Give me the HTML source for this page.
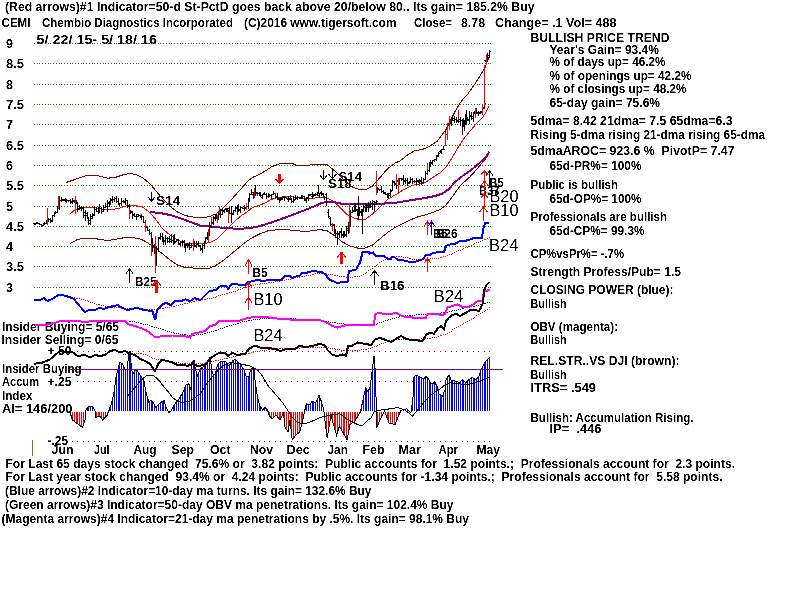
<!DOCTYPE html>
<html><head><meta charset="utf-8"><title>CEMI Chembio Diagnostics - TigerSoft chart</title>
<style>
html,body{margin:0;padding:0;background:#fff;}
body{width:800px;height:600px;overflow:hidden;font-family:"Liberation Sans",sans-serif;}
svg{display:block;}
text{font-family:"Liberation Sans",sans-serif;fill:#000;white-space:pre;}
text.b{font-size:13px;font-weight:bold;}
text.s{font-size:11px;font-weight:bold;}
text.m{font-size:12.5px;font-weight:bold;}
text.L{font-size:16px;font-weight:normal;}
</style></head>
<body>
<svg width="800" height="600" viewBox="0 0 800 600">
<rect width="800" height="600" fill="#fff"/>
<defs><filter id="bin" filterUnits="userSpaceOnUse" x="0" y="0" width="800" height="600" color-interpolation-filters="sRGB"><feComponentTransfer><feFuncA type="linear" slope="2.2" intercept="-0.6"/></feComponentTransfer></filter></defs>
<g xml:space="preserve" filter="url(#bin)">
<text class="b" x="5" y="11" textLength="529.5" lengthAdjust="spacingAndGlyphs">(Red arrows)#1 Indicator=50-d St-PctD goes back above 20/below 80.. Its gain= 185.2% Buy</text>
<text class="b" x="1.5" y="27" textLength="29.0" lengthAdjust="spacingAndGlyphs">CEMI</text>
<text class="b" x="42" y="27" textLength="191" lengthAdjust="spacingAndGlyphs">Chembio Diagnostics Incorporated</text>
<text class="b" x="244" y="27" textLength="152.5" lengthAdjust="spacingAndGlyphs">(C)2016 www.tigersoft.com</text>
<text class="b" x="414" y="27" textLength="38" lengthAdjust="spacingAndGlyphs">Close=</text>
<text class="b" x="461" y="27" textLength="24" lengthAdjust="spacingAndGlyphs">8.78</text>
<text class="b" x="495" y="27" textLength="121.5" lengthAdjust="spacingAndGlyphs">Change= .1 Vol= 488</text>
<text class="b" x="36.5" y="43.5" textLength="120.5" lengthAdjust="spacingAndGlyphs">5/ 22/ 15- 5/ 18/ 16</text>
<text class="b" x="6" y="48" textLength="7" lengthAdjust="spacingAndGlyphs">9</text>
<text class="b" x="6" y="68" textLength="18" lengthAdjust="spacingAndGlyphs">8.5</text>
<text class="b" x="6" y="89" textLength="7" lengthAdjust="spacingAndGlyphs">8</text>
<text class="b" x="6" y="109" textLength="18" lengthAdjust="spacingAndGlyphs">7.5</text>
<text class="b" x="6" y="129" textLength="7" lengthAdjust="spacingAndGlyphs">7</text>
<text class="b" x="6" y="150" textLength="18" lengthAdjust="spacingAndGlyphs">6.5</text>
<text class="b" x="6" y="170" textLength="7" lengthAdjust="spacingAndGlyphs">6</text>
<text class="b" x="6" y="190" textLength="18" lengthAdjust="spacingAndGlyphs">5.5</text>
<text class="b" x="6" y="211" textLength="7" lengthAdjust="spacingAndGlyphs">5</text>
<text class="b" x="6" y="231" textLength="18" lengthAdjust="spacingAndGlyphs">4.5</text>
<text class="b" x="6" y="251" textLength="7" lengthAdjust="spacingAndGlyphs">4</text>
<text class="b" x="6" y="271" textLength="18" lengthAdjust="spacingAndGlyphs">3.5</text>
<text class="b" x="6" y="292" textLength="7" lengthAdjust="spacingAndGlyphs">3</text>
<text class="b" x="530.5" y="42" textLength="139.0" lengthAdjust="spacingAndGlyphs">BULLISH PRICE TREND</text>
<text class="b" x="549.5" y="54" textLength="109.5" lengthAdjust="spacingAndGlyphs">Year's Gain= 93.4%</text>
<text class="b" x="549.5" y="66" textLength="116.0" lengthAdjust="spacingAndGlyphs">% of days up= 46.2%</text>
<text class="b" x="549.5" y="80" textLength="142.0" lengthAdjust="spacingAndGlyphs">% of openings up= 42.2%</text>
<text class="b" x="549.5" y="93" textLength="137.0" lengthAdjust="spacingAndGlyphs">% of closings up= 48.2%</text>
<text class="b" x="549.5" y="107" textLength="110.5" lengthAdjust="spacingAndGlyphs">65-day gain= 75.6%</text>
<text class="b" x="530.5" y="125" textLength="202.0" lengthAdjust="spacingAndGlyphs">5dma= 8.42 21dma= 7.5 65dma=6.3</text>
<text class="b" x="530.5" y="138.5" textLength="234.5" lengthAdjust="spacingAndGlyphs">Rising 5-dma rising 21-dma rising 65-dma</text>
<text class="b" x="530.5" y="155" textLength="204.0" lengthAdjust="spacingAndGlyphs">5dmaAROC= 923.6 %  PivotP= 7.47</text>
<text class="b" x="549.5" y="170" textLength="92.0" lengthAdjust="spacingAndGlyphs">65d-PR%= 100%</text>
<text class="b" x="530.5" y="188.5" textLength="87.5" lengthAdjust="spacingAndGlyphs">Public is bullish</text>
<text class="b" x="549.5" y="202.5" textLength="92.0" lengthAdjust="spacingAndGlyphs">65d-OP%= 100%</text>
<text class="b" x="530.5" y="221" textLength="136.5" lengthAdjust="spacingAndGlyphs">Professionals are bullish</text>
<text class="b" x="549.5" y="235" textLength="95.0" lengthAdjust="spacingAndGlyphs">65d-CP%= 99.3%</text>
<text class="b" x="530.5" y="257.5" textLength="93.5" lengthAdjust="spacingAndGlyphs">CP%vsPr%= -.7%</text>
<text class="b" x="530.5" y="276" textLength="150.5" lengthAdjust="spacingAndGlyphs">Strength Profess/Pub= 1.5</text>
<text class="b" x="530.5" y="293.5" textLength="143.0" lengthAdjust="spacingAndGlyphs">CLOSING POWER (blue):</text>
<text class="b" x="530.5" y="307.5" textLength="36.0" lengthAdjust="spacingAndGlyphs">Bullish</text>
<text class="b" x="530.5" y="330.5" textLength="87.5" lengthAdjust="spacingAndGlyphs">OBV (magenta):</text>
<text class="b" x="530.5" y="343.5" textLength="36.0" lengthAdjust="spacingAndGlyphs">Bullish</text>
<text class="b" x="530.5" y="365" textLength="149.0" lengthAdjust="spacingAndGlyphs">REL.STR..VS DJI (brown):</text>
<text class="b" x="530.5" y="378.5" textLength="36.0" lengthAdjust="spacingAndGlyphs">Bullish</text>
<text class="b" x="530.5" y="391.5" textLength="65.5" lengthAdjust="spacingAndGlyphs">ITRS= .549</text>
<text class="b" x="530.5" y="422" textLength="163.0" lengthAdjust="spacingAndGlyphs">Bullish: Accumulation Rising.</text>
<text class="b" x="549.5" y="432.5" textLength="52.0" lengthAdjust="spacingAndGlyphs">IP=  .446</text>
<text class="b" x="2" y="330.5" textLength="117" lengthAdjust="spacingAndGlyphs">Insider Buying= 5/65</text>
<text class="b" x="1.5" y="343.5" textLength="117.0" lengthAdjust="spacingAndGlyphs">Insider Selling= 0/65</text>
<text class="b" x="47.5" y="355" textLength="24.0" lengthAdjust="spacingAndGlyphs">+.50</text>
<text class="b" x="2" y="372.5" textLength="79.5" lengthAdjust="spacingAndGlyphs">Insider Buying</text>
<text class="b" x="2" y="385.5" textLength="37" lengthAdjust="spacingAndGlyphs">Accum</text>
<text class="b" x="47.5" y="385.5" textLength="24.0" lengthAdjust="spacingAndGlyphs">+.25</text>
<text class="b" x="2" y="400" textLength="30.5" lengthAdjust="spacingAndGlyphs">Index</text>
<text class="b" x="2" y="412.5" textLength="70.5" lengthAdjust="spacingAndGlyphs">AI= 146/200</text>
<text class="b" x="47.5" y="444.5" textLength="20.5" lengthAdjust="spacingAndGlyphs">-.25</text>
<text class="b" x="51.5" y="453.5" textLength="22.0" lengthAdjust="spacingAndGlyphs">Jun</text>
<text class="b" x="94" y="453.5" textLength="15.5" lengthAdjust="spacingAndGlyphs">Jul</text>
<text class="b" x="133.5" y="453.5" textLength="23.0" lengthAdjust="spacingAndGlyphs">Aug</text>
<text class="b" x="171.5" y="453.5" textLength="22.5" lengthAdjust="spacingAndGlyphs">Sep</text>
<text class="b" x="210" y="453.5" textLength="20.5" lengthAdjust="spacingAndGlyphs">Oct</text>
<text class="b" x="250" y="453.5" textLength="23" lengthAdjust="spacingAndGlyphs">Nov</text>
<text class="b" x="286.5" y="453.5" textLength="23.5" lengthAdjust="spacingAndGlyphs">Dec</text>
<text class="b" x="327.5" y="453.5" textLength="20.5" lengthAdjust="spacingAndGlyphs">Jan</text>
<text class="b" x="362.5" y="453.5" textLength="22.0" lengthAdjust="spacingAndGlyphs">Feb</text>
<text class="b" x="398.5" y="453.5" textLength="22.5" lengthAdjust="spacingAndGlyphs">Mar</text>
<text class="b" x="438.5" y="453.5" textLength="19.5" lengthAdjust="spacingAndGlyphs">Apr</text>
<text class="b" x="476.5" y="453.5" textLength="23.5" lengthAdjust="spacingAndGlyphs">May</text>
<text class="b" x="5.5" y="467.5" textLength="729.5" lengthAdjust="spacingAndGlyphs">For Last 65 days stock changed  75.6% or  3.82 points:  Public accounts for  1.52 points.;  Professionals account for  2.3 points.</text>
<text class="b" x="5.5" y="480.5" textLength="717.0" lengthAdjust="spacingAndGlyphs">For Last year stock changed  93.4% or  4.24 points:  Public accounts for -1.34 points.;  Professionals account for  5.58 points.</text>
<text class="b" x="5" y="495" textLength="366.5" lengthAdjust="spacingAndGlyphs">(Blue arrows)#2 Indicator=10-day ma turns. Its gain= 132.6% Buy</text>
<text class="b" x="5" y="509" textLength="448.5" lengthAdjust="spacingAndGlyphs">(Green arrows)#3 Indicator=50-day OBV ma penetrations. Its gain= 102.4% Buy</text>
<text class="b" x="1.5" y="522.5" textLength="467.5" lengthAdjust="spacingAndGlyphs">(Magenta arrows)#4 Indicator=21-day ma penetrations by .5%. Its gain= 98.1% Buy</text>
<text class="m" x="156" y="204.5" textLength="24.5" lengthAdjust="spacingAndGlyphs">S14</text>
<text class="m" x="135" y="285.5" textLength="21.5" lengthAdjust="spacingAndGlyphs">B25</text>
<text class="m" x="252.5" y="276.5" textLength="15.0" lengthAdjust="spacingAndGlyphs">B5</text>
<text class="L" x="253.5" y="304.5" textLength="29.0" lengthAdjust="spacingAndGlyphs">B10</text>
<text class="L" x="253.5" y="340.5" textLength="29.0" lengthAdjust="spacingAndGlyphs">B24</text>
<text class="m" x="338.5" y="180.5" textLength="23.5" lengthAdjust="spacingAndGlyphs">S14</text>
<text class="m" x="328" y="188" textLength="23.5" lengthAdjust="spacingAndGlyphs">S18</text>
<text class="m" x="380" y="289.5" textLength="24.5" lengthAdjust="spacingAndGlyphs">B16</text>
<text class="m" x="433" y="238" textLength="14.5" lengthAdjust="spacingAndGlyphs">B5</text>
<text class="m" x="436" y="238" textLength="21.5" lengthAdjust="spacingAndGlyphs">B26</text>
<text class="m" x="489.5" y="187" textLength="14.0" lengthAdjust="spacingAndGlyphs">B5</text>
<text class="m" x="479" y="195" textLength="20.5" lengthAdjust="spacingAndGlyphs">B37</text>
<text class="L" x="489.5" y="201.5" textLength="29.0" lengthAdjust="spacingAndGlyphs">B20</text>
<text class="L" x="489.5" y="215.5" textLength="29.0" lengthAdjust="spacingAndGlyphs">B10</text>
<text class="L" x="489" y="250.5" textLength="29.5" lengthAdjust="spacingAndGlyphs">B24</text>
<text class="L" x="433.5" y="302" textLength="30.0" lengthAdjust="spacingAndGlyphs">B24</text>
</g>
<g shape-rendering="crispEdges">
<path d="M34,43.5h1M37,43.5h1M39,43.5h1M42,43.5h1M45,43.5h1M48,43.5h1M50,43.5h1M53,43.5h1M56,43.5h1M59,43.5h1M61,43.5h1M64,43.5h1M67,43.5h1M70,43.5h1M72,43.5h1M75,43.5h1M78,43.5h1M81,43.5h1M83,43.5h1M86,43.5h1M89,43.5h1M92,43.5h1M94,43.5h1M97,43.5h1M100,43.5h1M103,43.5h1M105,43.5h1M108,43.5h1M111,43.5h1M114,43.5h1M116,43.5h1M119,43.5h1M122,43.5h1M125,43.5h1M127,43.5h1M130,43.5h1M133,43.5h1M136,43.5h1M138,43.5h1M141,43.5h1M144,43.5h1M147,43.5h1M149,43.5h1M152,43.5h1M155,43.5h1M158,43.5h1M160,43.5h1M163,43.5h1M166,43.5h1M169,43.5h1M171,43.5h1M174,43.5h1M177,43.5h1M180,43.5h1M182,43.5h1M185,43.5h1M188,43.5h1M191,43.5h1M193,43.5h1M196,43.5h1M199,43.5h1M202,43.5h1M204,43.5h1M207,43.5h1M210,43.5h1M213,43.5h1M215,43.5h1M218,43.5h1M221,43.5h1M224,43.5h1M226,43.5h1M229,43.5h1M232,43.5h1M235,43.5h1M237,43.5h1M240,43.5h1M243,43.5h1M246,43.5h1M248,43.5h1M251,43.5h1M254,43.5h1M257,43.5h1M259,43.5h1M262,43.5h1M265,43.5h1M268,43.5h1M270,43.5h1M273,43.5h1M276,43.5h1M279,43.5h1M281,43.5h1M284,43.5h1M287,43.5h1M290,43.5h1M292,43.5h1M295,43.5h1M298,43.5h1M301,43.5h1M303,43.5h1M306,43.5h1M309,43.5h1M312,43.5h1M314,43.5h1M317,43.5h1M320,43.5h1M323,43.5h1M325,43.5h1M328,43.5h1M331,43.5h1M334,43.5h1M336,43.5h1M339,43.5h1M342,43.5h1M345,43.5h1M347,43.5h1M350,43.5h1M353,43.5h1M356,43.5h1M358,43.5h1M361,43.5h1M364,43.5h1M367,43.5h1M369,43.5h1M372,43.5h1M375,43.5h1M378,43.5h1M380,43.5h1M383,43.5h1M386,43.5h1M389,43.5h1M391,43.5h1M394,43.5h1M397,43.5h1M400,43.5h1M402,43.5h1M405,43.5h1M408,43.5h1M411,43.5h1M413,43.5h1M416,43.5h1M419,43.5h1M422,43.5h1M424,43.5h1M427,43.5h1M430,43.5h1M433,43.5h1M435,43.5h1M438,43.5h1M441,43.5h1M444,43.5h1M446,43.5h1M449,43.5h1M452,43.5h1M455,43.5h1M457,43.5h1M460,43.5h1M463,43.5h1M466,43.5h1M468,43.5h1M471,43.5h1M474,43.5h1M477,43.5h1M479,43.5h1M482,43.5h1M485,43.5h1M488,43.5h1M490,43.5h1M34,63.5h1M37,63.5h1M39,63.5h1M42,63.5h1M45,63.5h1M48,63.5h1M50,63.5h1M53,63.5h1M56,63.5h1M59,63.5h1M61,63.5h1M64,63.5h1M67,63.5h1M70,63.5h1M72,63.5h1M75,63.5h1M78,63.5h1M81,63.5h1M83,63.5h1M86,63.5h1M89,63.5h1M92,63.5h1M94,63.5h1M97,63.5h1M100,63.5h1M103,63.5h1M105,63.5h1M108,63.5h1M111,63.5h1M114,63.5h1M116,63.5h1M119,63.5h1M122,63.5h1M125,63.5h1M127,63.5h1M130,63.5h1M133,63.5h1M136,63.5h1M138,63.5h1M141,63.5h1M144,63.5h1M147,63.5h1M149,63.5h1M152,63.5h1M155,63.5h1M158,63.5h1M160,63.5h1M163,63.5h1M166,63.5h1M169,63.5h1M171,63.5h1M174,63.5h1M177,63.5h1M180,63.5h1M182,63.5h1M185,63.5h1M188,63.5h1M191,63.5h1M193,63.5h1M196,63.5h1M199,63.5h1M202,63.5h1M204,63.5h1M207,63.5h1M210,63.5h1M213,63.5h1M215,63.5h1M218,63.5h1M221,63.5h1M224,63.5h1M226,63.5h1M229,63.5h1M232,63.5h1M235,63.5h1M237,63.5h1M240,63.5h1M243,63.5h1M246,63.5h1M248,63.5h1M251,63.5h1M254,63.5h1M257,63.5h1M259,63.5h1M262,63.5h1M265,63.5h1M268,63.5h1M270,63.5h1M273,63.5h1M276,63.5h1M279,63.5h1M281,63.5h1M284,63.5h1M287,63.5h1M290,63.5h1M292,63.5h1M295,63.5h1M298,63.5h1M301,63.5h1M303,63.5h1M306,63.5h1M309,63.5h1M312,63.5h1M314,63.5h1M317,63.5h1M320,63.5h1M323,63.5h1M325,63.5h1M328,63.5h1M331,63.5h1M334,63.5h1M336,63.5h1M339,63.5h1M342,63.5h1M345,63.5h1M347,63.5h1M350,63.5h1M353,63.5h1M356,63.5h1M358,63.5h1M361,63.5h1M364,63.5h1M367,63.5h1M369,63.5h1M372,63.5h1M375,63.5h1M378,63.5h1M380,63.5h1M383,63.5h1M386,63.5h1M389,63.5h1M391,63.5h1M394,63.5h1M397,63.5h1M400,63.5h1M402,63.5h1M405,63.5h1M408,63.5h1M411,63.5h1M413,63.5h1M416,63.5h1M419,63.5h1M422,63.5h1M424,63.5h1M427,63.5h1M430,63.5h1M433,63.5h1M435,63.5h1M438,63.5h1M441,63.5h1M444,63.5h1M446,63.5h1M449,63.5h1M452,63.5h1M455,63.5h1M457,63.5h1M460,63.5h1M463,63.5h1M466,63.5h1M468,63.5h1M471,63.5h1M474,63.5h1M477,63.5h1M479,63.5h1M482,63.5h1M485,63.5h1M488,63.5h1M490,63.5h1M34,84.5h1M37,84.5h1M39,84.5h1M42,84.5h1M45,84.5h1M48,84.5h1M50,84.5h1M53,84.5h1M56,84.5h1M59,84.5h1M61,84.5h1M64,84.5h1M67,84.5h1M70,84.5h1M72,84.5h1M75,84.5h1M78,84.5h1M81,84.5h1M83,84.5h1M86,84.5h1M89,84.5h1M92,84.5h1M94,84.5h1M97,84.5h1M100,84.5h1M103,84.5h1M105,84.5h1M108,84.5h1M111,84.5h1M114,84.5h1M116,84.5h1M119,84.5h1M122,84.5h1M125,84.5h1M127,84.5h1M130,84.5h1M133,84.5h1M136,84.5h1M138,84.5h1M141,84.5h1M144,84.5h1M147,84.5h1M149,84.5h1M152,84.5h1M155,84.5h1M158,84.5h1M160,84.5h1M163,84.5h1M166,84.5h1M169,84.5h1M171,84.5h1M174,84.5h1M177,84.5h1M180,84.5h1M182,84.5h1M185,84.5h1M188,84.5h1M191,84.5h1M193,84.5h1M196,84.5h1M199,84.5h1M202,84.5h1M204,84.5h1M207,84.5h1M210,84.5h1M213,84.5h1M215,84.5h1M218,84.5h1M221,84.5h1M224,84.5h1M226,84.5h1M229,84.5h1M232,84.5h1M235,84.5h1M237,84.5h1M240,84.5h1M243,84.5h1M246,84.5h1M248,84.5h1M251,84.5h1M254,84.5h1M257,84.5h1M259,84.5h1M262,84.5h1M265,84.5h1M268,84.5h1M270,84.5h1M273,84.5h1M276,84.5h1M279,84.5h1M281,84.5h1M284,84.5h1M287,84.5h1M290,84.5h1M292,84.5h1M295,84.5h1M298,84.5h1M301,84.5h1M303,84.5h1M306,84.5h1M309,84.5h1M312,84.5h1M314,84.5h1M317,84.5h1M320,84.5h1M323,84.5h1M325,84.5h1M328,84.5h1M331,84.5h1M334,84.5h1M336,84.5h1M339,84.5h1M342,84.5h1M345,84.5h1M347,84.5h1M350,84.5h1M353,84.5h1M356,84.5h1M358,84.5h1M361,84.5h1M364,84.5h1M367,84.5h1M369,84.5h1M372,84.5h1M375,84.5h1M378,84.5h1M380,84.5h1M383,84.5h1M386,84.5h1M389,84.5h1M391,84.5h1M394,84.5h1M397,84.5h1M400,84.5h1M402,84.5h1M405,84.5h1M408,84.5h1M411,84.5h1M413,84.5h1M416,84.5h1M419,84.5h1M422,84.5h1M424,84.5h1M427,84.5h1M430,84.5h1M433,84.5h1M435,84.5h1M438,84.5h1M441,84.5h1M444,84.5h1M446,84.5h1M449,84.5h1M452,84.5h1M455,84.5h1M457,84.5h1M460,84.5h1M463,84.5h1M466,84.5h1M468,84.5h1M471,84.5h1M474,84.5h1M477,84.5h1M479,84.5h1M482,84.5h1M485,84.5h1M488,84.5h1M490,84.5h1M34,104.5h1M37,104.5h1M39,104.5h1M42,104.5h1M45,104.5h1M48,104.5h1M50,104.5h1M53,104.5h1M56,104.5h1M59,104.5h1M61,104.5h1M64,104.5h1M67,104.5h1M70,104.5h1M72,104.5h1M75,104.5h1M78,104.5h1M81,104.5h1M83,104.5h1M86,104.5h1M89,104.5h1M92,104.5h1M94,104.5h1M97,104.5h1M100,104.5h1M103,104.5h1M105,104.5h1M108,104.5h1M111,104.5h1M114,104.5h1M116,104.5h1M119,104.5h1M122,104.5h1M125,104.5h1M127,104.5h1M130,104.5h1M133,104.5h1M136,104.5h1M138,104.5h1M141,104.5h1M144,104.5h1M147,104.5h1M149,104.5h1M152,104.5h1M155,104.5h1M158,104.5h1M160,104.5h1M163,104.5h1M166,104.5h1M169,104.5h1M171,104.5h1M174,104.5h1M177,104.5h1M180,104.5h1M182,104.5h1M185,104.5h1M188,104.5h1M191,104.5h1M193,104.5h1M196,104.5h1M199,104.5h1M202,104.5h1M204,104.5h1M207,104.5h1M210,104.5h1M213,104.5h1M215,104.5h1M218,104.5h1M221,104.5h1M224,104.5h1M226,104.5h1M229,104.5h1M232,104.5h1M235,104.5h1M237,104.5h1M240,104.5h1M243,104.5h1M246,104.5h1M248,104.5h1M251,104.5h1M254,104.5h1M257,104.5h1M259,104.5h1M262,104.5h1M265,104.5h1M268,104.5h1M270,104.5h1M273,104.5h1M276,104.5h1M279,104.5h1M281,104.5h1M284,104.5h1M287,104.5h1M290,104.5h1M292,104.5h1M295,104.5h1M298,104.5h1M301,104.5h1M303,104.5h1M306,104.5h1M309,104.5h1M312,104.5h1M314,104.5h1M317,104.5h1M320,104.5h1M323,104.5h1M325,104.5h1M328,104.5h1M331,104.5h1M334,104.5h1M336,104.5h1M339,104.5h1M342,104.5h1M345,104.5h1M347,104.5h1M350,104.5h1M353,104.5h1M356,104.5h1M358,104.5h1M361,104.5h1M364,104.5h1M367,104.5h1M369,104.5h1M372,104.5h1M375,104.5h1M378,104.5h1M380,104.5h1M383,104.5h1M386,104.5h1M389,104.5h1M391,104.5h1M394,104.5h1M397,104.5h1M400,104.5h1M402,104.5h1M405,104.5h1M408,104.5h1M411,104.5h1M413,104.5h1M416,104.5h1M419,104.5h1M422,104.5h1M424,104.5h1M427,104.5h1M430,104.5h1M433,104.5h1M435,104.5h1M438,104.5h1M441,104.5h1M444,104.5h1M446,104.5h1M449,104.5h1M452,104.5h1M455,104.5h1M457,104.5h1M460,104.5h1M463,104.5h1M466,104.5h1M468,104.5h1M471,104.5h1M474,104.5h1M477,104.5h1M479,104.5h1M482,104.5h1M485,104.5h1M488,104.5h1M490,104.5h1M34,124.5h1M37,124.5h1M39,124.5h1M42,124.5h1M45,124.5h1M48,124.5h1M50,124.5h1M53,124.5h1M56,124.5h1M59,124.5h1M61,124.5h1M64,124.5h1M67,124.5h1M70,124.5h1M72,124.5h1M75,124.5h1M78,124.5h1M81,124.5h1M83,124.5h1M86,124.5h1M89,124.5h1M92,124.5h1M94,124.5h1M97,124.5h1M100,124.5h1M103,124.5h1M105,124.5h1M108,124.5h1M111,124.5h1M114,124.5h1M116,124.5h1M119,124.5h1M122,124.5h1M125,124.5h1M127,124.5h1M130,124.5h1M133,124.5h1M136,124.5h1M138,124.5h1M141,124.5h1M144,124.5h1M147,124.5h1M149,124.5h1M152,124.5h1M155,124.5h1M158,124.5h1M160,124.5h1M163,124.5h1M166,124.5h1M169,124.5h1M171,124.5h1M174,124.5h1M177,124.5h1M180,124.5h1M182,124.5h1M185,124.5h1M188,124.5h1M191,124.5h1M193,124.5h1M196,124.5h1M199,124.5h1M202,124.5h1M204,124.5h1M207,124.5h1M210,124.5h1M213,124.5h1M215,124.5h1M218,124.5h1M221,124.5h1M224,124.5h1M226,124.5h1M229,124.5h1M232,124.5h1M235,124.5h1M237,124.5h1M240,124.5h1M243,124.5h1M246,124.5h1M248,124.5h1M251,124.5h1M254,124.5h1M257,124.5h1M259,124.5h1M262,124.5h1M265,124.5h1M268,124.5h1M270,124.5h1M273,124.5h1M276,124.5h1M279,124.5h1M281,124.5h1M284,124.5h1M287,124.5h1M290,124.5h1M292,124.5h1M295,124.5h1M298,124.5h1M301,124.5h1M303,124.5h1M306,124.5h1M309,124.5h1M312,124.5h1M314,124.5h1M317,124.5h1M320,124.5h1M323,124.5h1M325,124.5h1M328,124.5h1M331,124.5h1M334,124.5h1M336,124.5h1M339,124.5h1M342,124.5h1M345,124.5h1M347,124.5h1M350,124.5h1M353,124.5h1M356,124.5h1M358,124.5h1M361,124.5h1M364,124.5h1M367,124.5h1M369,124.5h1M372,124.5h1M375,124.5h1M378,124.5h1M380,124.5h1M383,124.5h1M386,124.5h1M389,124.5h1M391,124.5h1M394,124.5h1M397,124.5h1M400,124.5h1M402,124.5h1M405,124.5h1M408,124.5h1M411,124.5h1M413,124.5h1M416,124.5h1M419,124.5h1M422,124.5h1M424,124.5h1M427,124.5h1M430,124.5h1M433,124.5h1M435,124.5h1M438,124.5h1M441,124.5h1M444,124.5h1M446,124.5h1M449,124.5h1M452,124.5h1M455,124.5h1M457,124.5h1M460,124.5h1M463,124.5h1M466,124.5h1M468,124.5h1M471,124.5h1M474,124.5h1M477,124.5h1M479,124.5h1M482,124.5h1M485,124.5h1M488,124.5h1M490,124.5h1M34,145.5h1M37,145.5h1M39,145.5h1M42,145.5h1M45,145.5h1M48,145.5h1M50,145.5h1M53,145.5h1M56,145.5h1M59,145.5h1M61,145.5h1M64,145.5h1M67,145.5h1M70,145.5h1M72,145.5h1M75,145.5h1M78,145.5h1M81,145.5h1M83,145.5h1M86,145.5h1M89,145.5h1M92,145.5h1M94,145.5h1M97,145.5h1M100,145.5h1M103,145.5h1M105,145.5h1M108,145.5h1M111,145.5h1M114,145.5h1M116,145.5h1M119,145.5h1M122,145.5h1M125,145.5h1M127,145.5h1M130,145.5h1M133,145.5h1M136,145.5h1M138,145.5h1M141,145.5h1M144,145.5h1M147,145.5h1M149,145.5h1M152,145.5h1M155,145.5h1M158,145.5h1M160,145.5h1M163,145.5h1M166,145.5h1M169,145.5h1M171,145.5h1M174,145.5h1M177,145.5h1M180,145.5h1M182,145.5h1M185,145.5h1M188,145.5h1M191,145.5h1M193,145.5h1M196,145.5h1M199,145.5h1M202,145.5h1M204,145.5h1M207,145.5h1M210,145.5h1M213,145.5h1M215,145.5h1M218,145.5h1M221,145.5h1M224,145.5h1M226,145.5h1M229,145.5h1M232,145.5h1M235,145.5h1M237,145.5h1M240,145.5h1M243,145.5h1M246,145.5h1M248,145.5h1M251,145.5h1M254,145.5h1M257,145.5h1M259,145.5h1M262,145.5h1M265,145.5h1M268,145.5h1M270,145.5h1M273,145.5h1M276,145.5h1M279,145.5h1M281,145.5h1M284,145.5h1M287,145.5h1M290,145.5h1M292,145.5h1M295,145.5h1M298,145.5h1M301,145.5h1M303,145.5h1M306,145.5h1M309,145.5h1M312,145.5h1M314,145.5h1M317,145.5h1M320,145.5h1M323,145.5h1M325,145.5h1M328,145.5h1M331,145.5h1M334,145.5h1M336,145.5h1M339,145.5h1M342,145.5h1M345,145.5h1M347,145.5h1M350,145.5h1M353,145.5h1M356,145.5h1M358,145.5h1M361,145.5h1M364,145.5h1M367,145.5h1M369,145.5h1M372,145.5h1M375,145.5h1M378,145.5h1M380,145.5h1M383,145.5h1M386,145.5h1M389,145.5h1M391,145.5h1M394,145.5h1M397,145.5h1M400,145.5h1M402,145.5h1M405,145.5h1M408,145.5h1M411,145.5h1M413,145.5h1M416,145.5h1M419,145.5h1M422,145.5h1M424,145.5h1M427,145.5h1M430,145.5h1M433,145.5h1M435,145.5h1M438,145.5h1M441,145.5h1M444,145.5h1M446,145.5h1M449,145.5h1M452,145.5h1M455,145.5h1M457,145.5h1M460,145.5h1M463,145.5h1M466,145.5h1M468,145.5h1M471,145.5h1M474,145.5h1M477,145.5h1M479,145.5h1M482,145.5h1M485,145.5h1M488,145.5h1M490,145.5h1M34,165.5h1M37,165.5h1M39,165.5h1M42,165.5h1M45,165.5h1M48,165.5h1M50,165.5h1M53,165.5h1M56,165.5h1M59,165.5h1M61,165.5h1M64,165.5h1M67,165.5h1M70,165.5h1M72,165.5h1M75,165.5h1M78,165.5h1M81,165.5h1M83,165.5h1M86,165.5h1M89,165.5h1M92,165.5h1M94,165.5h1M97,165.5h1M100,165.5h1M103,165.5h1M105,165.5h1M108,165.5h1M111,165.5h1M114,165.5h1M116,165.5h1M119,165.5h1M122,165.5h1M125,165.5h1M127,165.5h1M130,165.5h1M133,165.5h1M136,165.5h1M138,165.5h1M141,165.5h1M144,165.5h1M147,165.5h1M149,165.5h1M152,165.5h1M155,165.5h1M158,165.5h1M160,165.5h1M163,165.5h1M166,165.5h1M169,165.5h1M171,165.5h1M174,165.5h1M177,165.5h1M180,165.5h1M182,165.5h1M185,165.5h1M188,165.5h1M191,165.5h1M193,165.5h1M196,165.5h1M199,165.5h1M202,165.5h1M204,165.5h1M207,165.5h1M210,165.5h1M213,165.5h1M215,165.5h1M218,165.5h1M221,165.5h1M224,165.5h1M226,165.5h1M229,165.5h1M232,165.5h1M235,165.5h1M237,165.5h1M240,165.5h1M243,165.5h1M246,165.5h1M248,165.5h1M251,165.5h1M254,165.5h1M257,165.5h1M259,165.5h1M262,165.5h1M265,165.5h1M268,165.5h1M270,165.5h1M273,165.5h1M276,165.5h1M279,165.5h1M281,165.5h1M284,165.5h1M287,165.5h1M290,165.5h1M292,165.5h1M295,165.5h1M298,165.5h1M301,165.5h1M303,165.5h1M306,165.5h1M309,165.5h1M312,165.5h1M314,165.5h1M317,165.5h1M320,165.5h1M323,165.5h1M325,165.5h1M328,165.5h1M331,165.5h1M334,165.5h1M336,165.5h1M339,165.5h1M342,165.5h1M345,165.5h1M347,165.5h1M350,165.5h1M353,165.5h1M356,165.5h1M358,165.5h1M361,165.5h1M364,165.5h1M367,165.5h1M369,165.5h1M372,165.5h1M375,165.5h1M378,165.5h1M380,165.5h1M383,165.5h1M386,165.5h1M389,165.5h1M391,165.5h1M394,165.5h1M397,165.5h1M400,165.5h1M402,165.5h1M405,165.5h1M408,165.5h1M411,165.5h1M413,165.5h1M416,165.5h1M419,165.5h1M422,165.5h1M424,165.5h1M427,165.5h1M430,165.5h1M433,165.5h1M435,165.5h1M438,165.5h1M441,165.5h1M444,165.5h1M446,165.5h1M449,165.5h1M452,165.5h1M455,165.5h1M457,165.5h1M460,165.5h1M463,165.5h1M466,165.5h1M468,165.5h1M471,165.5h1M474,165.5h1M477,165.5h1M479,165.5h1M482,165.5h1M485,165.5h1M488,165.5h1M490,165.5h1M34,185.5h1M37,185.5h1M39,185.5h1M42,185.5h1M45,185.5h1M48,185.5h1M50,185.5h1M53,185.5h1M56,185.5h1M59,185.5h1M61,185.5h1M64,185.5h1M67,185.5h1M70,185.5h1M72,185.5h1M75,185.5h1M78,185.5h1M81,185.5h1M83,185.5h1M86,185.5h1M89,185.5h1M92,185.5h1M94,185.5h1M97,185.5h1M100,185.5h1M103,185.5h1M105,185.5h1M108,185.5h1M111,185.5h1M114,185.5h1M116,185.5h1M119,185.5h1M122,185.5h1M125,185.5h1M127,185.5h1M130,185.5h1M133,185.5h1M136,185.5h1M138,185.5h1M141,185.5h1M144,185.5h1M147,185.5h1M149,185.5h1M152,185.5h1M155,185.5h1M158,185.5h1M160,185.5h1M163,185.5h1M166,185.5h1M169,185.5h1M171,185.5h1M174,185.5h1M177,185.5h1M180,185.5h1M182,185.5h1M185,185.5h1M188,185.5h1M191,185.5h1M193,185.5h1M196,185.5h1M199,185.5h1M202,185.5h1M204,185.5h1M207,185.5h1M210,185.5h1M213,185.5h1M215,185.5h1M218,185.5h1M221,185.5h1M224,185.5h1M226,185.5h1M229,185.5h1M232,185.5h1M235,185.5h1M237,185.5h1M240,185.5h1M243,185.5h1M246,185.5h1M248,185.5h1M251,185.5h1M254,185.5h1M257,185.5h1M259,185.5h1M262,185.5h1M265,185.5h1M268,185.5h1M270,185.5h1M273,185.5h1M276,185.5h1M279,185.5h1M281,185.5h1M284,185.5h1M287,185.5h1M290,185.5h1M292,185.5h1M295,185.5h1M298,185.5h1M301,185.5h1M303,185.5h1M306,185.5h1M309,185.5h1M312,185.5h1M314,185.5h1M317,185.5h1M320,185.5h1M323,185.5h1M325,185.5h1M328,185.5h1M331,185.5h1M334,185.5h1M336,185.5h1M339,185.5h1M342,185.5h1M345,185.5h1M347,185.5h1M350,185.5h1M353,185.5h1M356,185.5h1M358,185.5h1M361,185.5h1M364,185.5h1M367,185.5h1M369,185.5h1M372,185.5h1M375,185.5h1M378,185.5h1M380,185.5h1M383,185.5h1M386,185.5h1M389,185.5h1M391,185.5h1M394,185.5h1M397,185.5h1M400,185.5h1M402,185.5h1M405,185.5h1M408,185.5h1M411,185.5h1M413,185.5h1M416,185.5h1M419,185.5h1M422,185.5h1M424,185.5h1M427,185.5h1M430,185.5h1M433,185.5h1M435,185.5h1M438,185.5h1M441,185.5h1M444,185.5h1M446,185.5h1M449,185.5h1M452,185.5h1M455,185.5h1M457,185.5h1M460,185.5h1M463,185.5h1M466,185.5h1M468,185.5h1M471,185.5h1M474,185.5h1M477,185.5h1M479,185.5h1M482,185.5h1M485,185.5h1M488,185.5h1M490,185.5h1M34,206.5h1M37,206.5h1M39,206.5h1M42,206.5h1M45,206.5h1M48,206.5h1M50,206.5h1M53,206.5h1M56,206.5h1M59,206.5h1M61,206.5h1M64,206.5h1M67,206.5h1M70,206.5h1M72,206.5h1M75,206.5h1M78,206.5h1M81,206.5h1M83,206.5h1M86,206.5h1M89,206.5h1M92,206.5h1M94,206.5h1M97,206.5h1M100,206.5h1M103,206.5h1M105,206.5h1M108,206.5h1M111,206.5h1M114,206.5h1M116,206.5h1M119,206.5h1M122,206.5h1M125,206.5h1M127,206.5h1M130,206.5h1M133,206.5h1M136,206.5h1M138,206.5h1M141,206.5h1M144,206.5h1M147,206.5h1M149,206.5h1M152,206.5h1M155,206.5h1M158,206.5h1M160,206.5h1M163,206.5h1M166,206.5h1M169,206.5h1M171,206.5h1M174,206.5h1M177,206.5h1M180,206.5h1M182,206.5h1M185,206.5h1M188,206.5h1M191,206.5h1M193,206.5h1M196,206.5h1M199,206.5h1M202,206.5h1M204,206.5h1M207,206.5h1M210,206.5h1M213,206.5h1M215,206.5h1M218,206.5h1M221,206.5h1M224,206.5h1M226,206.5h1M229,206.5h1M232,206.5h1M235,206.5h1M237,206.5h1M240,206.5h1M243,206.5h1M246,206.5h1M248,206.5h1M251,206.5h1M254,206.5h1M257,206.5h1M259,206.5h1M262,206.5h1M265,206.5h1M268,206.5h1M270,206.5h1M273,206.5h1M276,206.5h1M279,206.5h1M281,206.5h1M284,206.5h1M287,206.5h1M290,206.5h1M292,206.5h1M295,206.5h1M298,206.5h1M301,206.5h1M303,206.5h1M306,206.5h1M309,206.5h1M312,206.5h1M314,206.5h1M317,206.5h1M320,206.5h1M323,206.5h1M325,206.5h1M328,206.5h1M331,206.5h1M334,206.5h1M336,206.5h1M339,206.5h1M342,206.5h1M345,206.5h1M347,206.5h1M350,206.5h1M353,206.5h1M356,206.5h1M358,206.5h1M361,206.5h1M364,206.5h1M367,206.5h1M369,206.5h1M372,206.5h1M375,206.5h1M378,206.5h1M380,206.5h1M383,206.5h1M386,206.5h1M389,206.5h1M391,206.5h1M394,206.5h1M397,206.5h1M400,206.5h1M402,206.5h1M405,206.5h1M408,206.5h1M411,206.5h1M413,206.5h1M416,206.5h1M419,206.5h1M422,206.5h1M424,206.5h1M427,206.5h1M430,206.5h1M433,206.5h1M435,206.5h1M438,206.5h1M441,206.5h1M444,206.5h1M446,206.5h1M449,206.5h1M452,206.5h1M455,206.5h1M457,206.5h1M460,206.5h1M463,206.5h1M466,206.5h1M468,206.5h1M471,206.5h1M474,206.5h1M477,206.5h1M479,206.5h1M482,206.5h1M485,206.5h1M488,206.5h1M490,206.5h1M34,226.5h1M37,226.5h1M39,226.5h1M42,226.5h1M45,226.5h1M48,226.5h1M50,226.5h1M53,226.5h1M56,226.5h1M59,226.5h1M61,226.5h1M64,226.5h1M67,226.5h1M70,226.5h1M72,226.5h1M75,226.5h1M78,226.5h1M81,226.5h1M83,226.5h1M86,226.5h1M89,226.5h1M92,226.5h1M94,226.5h1M97,226.5h1M100,226.5h1M103,226.5h1M105,226.5h1M108,226.5h1M111,226.5h1M114,226.5h1M116,226.5h1M119,226.5h1M122,226.5h1M125,226.5h1M127,226.5h1M130,226.5h1M133,226.5h1M136,226.5h1M138,226.5h1M141,226.5h1M144,226.5h1M147,226.5h1M149,226.5h1M152,226.5h1M155,226.5h1M158,226.5h1M160,226.5h1M163,226.5h1M166,226.5h1M169,226.5h1M171,226.5h1M174,226.5h1M177,226.5h1M180,226.5h1M182,226.5h1M185,226.5h1M188,226.5h1M191,226.5h1M193,226.5h1M196,226.5h1M199,226.5h1M202,226.5h1M204,226.5h1M207,226.5h1M210,226.5h1M213,226.5h1M215,226.5h1M218,226.5h1M221,226.5h1M224,226.5h1M226,226.5h1M229,226.5h1M232,226.5h1M235,226.5h1M237,226.5h1M240,226.5h1M243,226.5h1M246,226.5h1M248,226.5h1M251,226.5h1M254,226.5h1M257,226.5h1M259,226.5h1M262,226.5h1M265,226.5h1M268,226.5h1M270,226.5h1M273,226.5h1M276,226.5h1M279,226.5h1M281,226.5h1M284,226.5h1M287,226.5h1M290,226.5h1M292,226.5h1M295,226.5h1M298,226.5h1M301,226.5h1M303,226.5h1M306,226.5h1M309,226.5h1M312,226.5h1M314,226.5h1M317,226.5h1M320,226.5h1M323,226.5h1M325,226.5h1M328,226.5h1M331,226.5h1M334,226.5h1M336,226.5h1M339,226.5h1M342,226.5h1M345,226.5h1M347,226.5h1M350,226.5h1M353,226.5h1M356,226.5h1M358,226.5h1M361,226.5h1M364,226.5h1M367,226.5h1M369,226.5h1M372,226.5h1M375,226.5h1M378,226.5h1M380,226.5h1M383,226.5h1M386,226.5h1M389,226.5h1M391,226.5h1M394,226.5h1M397,226.5h1M400,226.5h1M402,226.5h1M405,226.5h1M408,226.5h1M411,226.5h1M413,226.5h1M416,226.5h1M419,226.5h1M422,226.5h1M424,226.5h1M427,226.5h1M430,226.5h1M433,226.5h1M435,226.5h1M438,226.5h1M441,226.5h1M444,226.5h1M446,226.5h1M449,226.5h1M452,226.5h1M455,226.5h1M457,226.5h1M460,226.5h1M463,226.5h1M466,226.5h1M468,226.5h1M471,226.5h1M474,226.5h1M477,226.5h1M479,226.5h1M482,226.5h1M485,226.5h1M488,226.5h1M490,226.5h1M34,246.5h1M37,246.5h1M39,246.5h1M42,246.5h1M45,246.5h1M48,246.5h1M50,246.5h1M53,246.5h1M56,246.5h1M59,246.5h1M61,246.5h1M64,246.5h1M67,246.5h1M70,246.5h1M72,246.5h1M75,246.5h1M78,246.5h1M81,246.5h1M83,246.5h1M86,246.5h1M89,246.5h1M92,246.5h1M94,246.5h1M97,246.5h1M100,246.5h1M103,246.5h1M105,246.5h1M108,246.5h1M111,246.5h1M114,246.5h1M116,246.5h1M119,246.5h1M122,246.5h1M125,246.5h1M127,246.5h1M130,246.5h1M133,246.5h1M136,246.5h1M138,246.5h1M141,246.5h1M144,246.5h1M147,246.5h1M149,246.5h1M152,246.5h1M155,246.5h1M158,246.5h1M160,246.5h1M163,246.5h1M166,246.5h1M169,246.5h1M171,246.5h1M174,246.5h1M177,246.5h1M180,246.5h1M182,246.5h1M185,246.5h1M188,246.5h1M191,246.5h1M193,246.5h1M196,246.5h1M199,246.5h1M202,246.5h1M204,246.5h1M207,246.5h1M210,246.5h1M213,246.5h1M215,246.5h1M218,246.5h1M221,246.5h1M224,246.5h1M226,246.5h1M229,246.5h1M232,246.5h1M235,246.5h1M237,246.5h1M240,246.5h1M243,246.5h1M246,246.5h1M248,246.5h1M251,246.5h1M254,246.5h1M257,246.5h1M259,246.5h1M262,246.5h1M265,246.5h1M268,246.5h1M270,246.5h1M273,246.5h1M276,246.5h1M279,246.5h1M281,246.5h1M284,246.5h1M287,246.5h1M290,246.5h1M292,246.5h1M295,246.5h1M298,246.5h1M301,246.5h1M303,246.5h1M306,246.5h1M309,246.5h1M312,246.5h1M314,246.5h1M317,246.5h1M320,246.5h1M323,246.5h1M325,246.5h1M328,246.5h1M331,246.5h1M334,246.5h1M336,246.5h1M339,246.5h1M342,246.5h1M345,246.5h1M347,246.5h1M350,246.5h1M353,246.5h1M356,246.5h1M358,246.5h1M361,246.5h1M364,246.5h1M367,246.5h1M369,246.5h1M372,246.5h1M375,246.5h1M378,246.5h1M380,246.5h1M383,246.5h1M386,246.5h1M389,246.5h1M391,246.5h1M394,246.5h1M397,246.5h1M400,246.5h1M402,246.5h1M405,246.5h1M408,246.5h1M411,246.5h1M413,246.5h1M416,246.5h1M419,246.5h1M422,246.5h1M424,246.5h1M427,246.5h1M430,246.5h1M433,246.5h1M435,246.5h1M438,246.5h1M441,246.5h1M444,246.5h1M446,246.5h1M449,246.5h1M452,246.5h1M455,246.5h1M457,246.5h1M460,246.5h1M463,246.5h1M466,246.5h1M468,246.5h1M471,246.5h1M474,246.5h1M477,246.5h1M479,246.5h1M482,246.5h1M485,246.5h1M488,246.5h1M490,246.5h1M34,266.5h1M37,266.5h1M39,266.5h1M42,266.5h1M45,266.5h1M48,266.5h1M50,266.5h1M53,266.5h1M56,266.5h1M59,266.5h1M61,266.5h1M64,266.5h1M67,266.5h1M70,266.5h1M72,266.5h1M75,266.5h1M78,266.5h1M81,266.5h1M83,266.5h1M86,266.5h1M89,266.5h1M92,266.5h1M94,266.5h1M97,266.5h1M100,266.5h1M103,266.5h1M105,266.5h1M108,266.5h1M111,266.5h1M114,266.5h1M116,266.5h1M119,266.5h1M122,266.5h1M125,266.5h1M127,266.5h1M130,266.5h1M133,266.5h1M136,266.5h1M138,266.5h1M141,266.5h1M144,266.5h1M147,266.5h1M149,266.5h1M152,266.5h1M155,266.5h1M158,266.5h1M160,266.5h1M163,266.5h1M166,266.5h1M169,266.5h1M171,266.5h1M174,266.5h1M177,266.5h1M180,266.5h1M182,266.5h1M185,266.5h1M188,266.5h1M191,266.5h1M193,266.5h1M196,266.5h1M199,266.5h1M202,266.5h1M204,266.5h1M207,266.5h1M210,266.5h1M213,266.5h1M215,266.5h1M218,266.5h1M221,266.5h1M224,266.5h1M226,266.5h1M229,266.5h1M232,266.5h1M235,266.5h1M237,266.5h1M240,266.5h1M243,266.5h1M246,266.5h1M248,266.5h1M251,266.5h1M254,266.5h1M257,266.5h1M259,266.5h1M262,266.5h1M265,266.5h1M268,266.5h1M270,266.5h1M273,266.5h1M276,266.5h1M279,266.5h1M281,266.5h1M284,266.5h1M287,266.5h1M290,266.5h1M292,266.5h1M295,266.5h1M298,266.5h1M301,266.5h1M303,266.5h1M306,266.5h1M309,266.5h1M312,266.5h1M314,266.5h1M317,266.5h1M320,266.5h1M323,266.5h1M325,266.5h1M328,266.5h1M331,266.5h1M334,266.5h1M336,266.5h1M339,266.5h1M342,266.5h1M345,266.5h1M347,266.5h1M350,266.5h1M353,266.5h1M356,266.5h1M358,266.5h1M361,266.5h1M364,266.5h1M367,266.5h1M369,266.5h1M372,266.5h1M375,266.5h1M378,266.5h1M380,266.5h1M383,266.5h1M386,266.5h1M389,266.5h1M391,266.5h1M394,266.5h1M397,266.5h1M400,266.5h1M402,266.5h1M405,266.5h1M408,266.5h1M411,266.5h1M413,266.5h1M416,266.5h1M419,266.5h1M422,266.5h1M424,266.5h1M427,266.5h1M430,266.5h1M433,266.5h1M435,266.5h1M438,266.5h1M441,266.5h1M444,266.5h1M446,266.5h1M449,266.5h1M452,266.5h1M455,266.5h1M457,266.5h1M460,266.5h1M463,266.5h1M466,266.5h1M468,266.5h1M471,266.5h1M474,266.5h1M477,266.5h1M479,266.5h1M482,266.5h1M485,266.5h1M488,266.5h1M490,266.5h1M34,287.5h1M37,287.5h1M39,287.5h1M42,287.5h1M45,287.5h1M48,287.5h1M50,287.5h1M53,287.5h1M56,287.5h1M59,287.5h1M61,287.5h1M64,287.5h1M67,287.5h1M70,287.5h1M72,287.5h1M75,287.5h1M78,287.5h1M81,287.5h1M83,287.5h1M86,287.5h1M89,287.5h1M92,287.5h1M94,287.5h1M97,287.5h1M100,287.5h1M103,287.5h1M105,287.5h1M108,287.5h1M111,287.5h1M114,287.5h1M116,287.5h1M119,287.5h1M122,287.5h1M125,287.5h1M127,287.5h1M130,287.5h1M133,287.5h1M136,287.5h1M138,287.5h1M141,287.5h1M144,287.5h1M147,287.5h1M149,287.5h1M152,287.5h1M155,287.5h1M158,287.5h1M160,287.5h1M163,287.5h1M166,287.5h1M169,287.5h1M171,287.5h1M174,287.5h1M177,287.5h1M180,287.5h1M182,287.5h1M185,287.5h1M188,287.5h1M191,287.5h1M193,287.5h1M196,287.5h1M199,287.5h1M202,287.5h1M204,287.5h1M207,287.5h1M210,287.5h1M213,287.5h1M215,287.5h1M218,287.5h1M221,287.5h1M224,287.5h1M226,287.5h1M229,287.5h1M232,287.5h1M235,287.5h1M237,287.5h1M240,287.5h1M243,287.5h1M246,287.5h1M248,287.5h1M251,287.5h1M254,287.5h1M257,287.5h1M259,287.5h1M262,287.5h1M265,287.5h1M268,287.5h1M270,287.5h1M273,287.5h1M276,287.5h1M279,287.5h1M281,287.5h1M284,287.5h1M287,287.5h1M290,287.5h1M292,287.5h1M295,287.5h1M298,287.5h1M301,287.5h1M303,287.5h1M306,287.5h1M309,287.5h1M312,287.5h1M314,287.5h1M317,287.5h1M320,287.5h1M323,287.5h1M325,287.5h1M328,287.5h1M331,287.5h1M334,287.5h1M336,287.5h1M339,287.5h1M342,287.5h1M345,287.5h1M347,287.5h1M350,287.5h1M353,287.5h1M356,287.5h1M358,287.5h1M361,287.5h1M364,287.5h1M367,287.5h1M369,287.5h1M372,287.5h1M375,287.5h1M378,287.5h1M380,287.5h1M383,287.5h1M386,287.5h1M389,287.5h1M391,287.5h1M394,287.5h1M397,287.5h1M400,287.5h1M402,287.5h1M405,287.5h1M408,287.5h1M411,287.5h1M413,287.5h1M416,287.5h1M419,287.5h1M422,287.5h1M424,287.5h1M427,287.5h1M430,287.5h1M433,287.5h1M435,287.5h1M438,287.5h1M441,287.5h1M444,287.5h1M446,287.5h1M449,287.5h1M452,287.5h1M455,287.5h1M457,287.5h1M460,287.5h1M463,287.5h1M466,287.5h1M468,287.5h1M471,287.5h1M474,287.5h1M477,287.5h1M479,287.5h1M482,287.5h1M485,287.5h1M488,287.5h1M490,287.5h1" stroke="#008000" stroke-width="1" fill="none"/>
<path d="M77,351.5h1M83,351.5h1M88,351.5h1M94,351.5h1M99,351.5h1M105,351.5h1M110,351.5h1M116,351.5h1M121,351.5h1M127,351.5h1M132,351.5h1M138,351.5h1M143,351.5h1M149,351.5h1M154,351.5h1M160,351.5h1M165,351.5h1M171,351.5h1M176,351.5h1M182,351.5h1M187,351.5h1M193,351.5h1M198,351.5h1M204,351.5h1M209,351.5h1M215,351.5h1M220,351.5h1M226,351.5h1M231,351.5h1M237,351.5h1M242,351.5h1M248,351.5h1M253,351.5h1M259,351.5h1M264,351.5h1M269,351.5h1M275,351.5h1M280,351.5h1M286,351.5h1M291,351.5h1M297,351.5h1M302,351.5h1M308,351.5h1M313,351.5h1M319,351.5h1M324,351.5h1M330,351.5h1M335,351.5h1M341,351.5h1M346,351.5h1M352,351.5h1M357,351.5h1M363,351.5h1M368,351.5h1M374,351.5h1M379,351.5h1M385,351.5h1M390,351.5h1M396,351.5h1M401,351.5h1M407,351.5h1M412,351.5h1M418,351.5h1M423,351.5h1M429,351.5h1M434,351.5h1M440,351.5h1M445,351.5h1M451,351.5h1M456,351.5h1M462,351.5h1M467,351.5h1M473,351.5h1M478,351.5h1M484,351.5h1M489,351.5h1" stroke="#800080" stroke-width="1" fill="none"/>
<path d="M77,381.5h1M83,381.5h1M88,381.5h1M94,381.5h1M99,381.5h1M105,381.5h1M110,381.5h1M116,381.5h1M121,381.5h1M127,381.5h1M132,381.5h1M138,381.5h1M143,381.5h1M149,381.5h1M154,381.5h1M160,381.5h1M165,381.5h1M171,381.5h1M176,381.5h1M182,381.5h1M187,381.5h1M193,381.5h1M198,381.5h1M204,381.5h1M209,381.5h1M215,381.5h1M220,381.5h1M226,381.5h1M231,381.5h1M237,381.5h1M242,381.5h1M248,381.5h1M253,381.5h1M259,381.5h1M264,381.5h1M269,381.5h1M275,381.5h1M280,381.5h1M286,381.5h1M291,381.5h1M297,381.5h1M302,381.5h1M308,381.5h1M313,381.5h1M319,381.5h1M324,381.5h1M330,381.5h1M335,381.5h1M341,381.5h1M346,381.5h1M352,381.5h1M357,381.5h1M363,381.5h1M368,381.5h1M374,381.5h1M379,381.5h1M385,381.5h1M390,381.5h1M396,381.5h1M401,381.5h1M407,381.5h1M412,381.5h1M418,381.5h1M423,381.5h1M429,381.5h1M434,381.5h1M440,381.5h1M445,381.5h1M451,381.5h1M456,381.5h1M462,381.5h1M467,381.5h1M473,381.5h1M478,381.5h1M484,381.5h1M489,381.5h1" stroke="#000" stroke-width="1" fill="none"/>
<path d="M72,441.5h1M77,441.5h1M83,441.5h1M88,441.5h1M94,441.5h1M99,441.5h1M105,441.5h1M110,441.5h1M116,441.5h1M121,441.5h1M127,441.5h1M132,441.5h1M138,441.5h1M143,441.5h1M149,441.5h1M154,441.5h1M160,441.5h1M165,441.5h1M171,441.5h1M176,441.5h1M182,441.5h1M187,441.5h1M193,441.5h1M198,441.5h1M204,441.5h1M209,441.5h1M215,441.5h1M220,441.5h1M226,441.5h1M231,441.5h1M237,441.5h1M242,441.5h1M248,441.5h1M253,441.5h1M259,441.5h1M264,441.5h1M269,441.5h1M275,441.5h1M280,441.5h1M286,441.5h1M291,441.5h1M297,441.5h1M302,441.5h1M308,441.5h1M313,441.5h1M319,441.5h1M324,441.5h1M330,441.5h1M335,441.5h1M341,441.5h1M346,441.5h1M352,441.5h1M357,441.5h1M363,441.5h1M368,441.5h1M374,441.5h1M379,441.5h1M385,441.5h1M390,441.5h1M396,441.5h1M401,441.5h1M407,441.5h1M412,441.5h1M418,441.5h1M423,441.5h1M429,441.5h1M434,441.5h1M440,441.5h1M445,441.5h1M451,441.5h1M456,441.5h1M462,441.5h1M467,441.5h1M473,441.5h1M478,441.5h1M484,441.5h1M489,441.5h1" stroke="#800080" stroke-width="1" fill="none"/>
<line x1="70.5" y1="412" x2="70.5" y2="414.3" stroke="#ff0000" stroke-width="1"/>
<line x1="72.5" y1="412" x2="72.5" y2="419.7" stroke="#ff0000" stroke-width="1"/>
<line x1="74.5" y1="412" x2="74.5" y2="421.3" stroke="#ff0000" stroke-width="1"/>
<line x1="76.5" y1="412" x2="76.5" y2="422.7" stroke="#ff0000" stroke-width="1"/>
<line x1="77.5" y1="412" x2="77.5" y2="424.1" stroke="#ff0000" stroke-width="1"/>
<line x1="79.5" y1="412" x2="79.5" y2="425.4" stroke="#ff0000" stroke-width="1"/>
<line x1="81.5" y1="412" x2="81.5" y2="426.8" stroke="#ff0000" stroke-width="1"/>
<line x1="83.5" y1="412" x2="83.5" y2="424.8" stroke="#ff0000" stroke-width="1"/>
<line x1="85.5" y1="412" x2="85.5" y2="417.8" stroke="#ff0000" stroke-width="1"/>
<line x1="87.5" y1="411" x2="87.5" y2="408.6" stroke="#0000ff" stroke-width="1"/>
<line x1="88.5" y1="411" x2="88.5" y2="406.2" stroke="#0000ff" stroke-width="1"/>
<line x1="90.5" y1="411" x2="90.5" y2="406.0" stroke="#0000ff" stroke-width="1"/>
<line x1="92.5" y1="411" x2="92.5" y2="406.1" stroke="#0000ff" stroke-width="1"/>
<line x1="94.5" y1="411" x2="94.5" y2="409.7" stroke="#0000ff" stroke-width="1"/>
<line x1="96.5" y1="412" x2="96.5" y2="417.4" stroke="#ff0000" stroke-width="1"/>
<line x1="98.5" y1="412" x2="98.5" y2="416.7" stroke="#ff0000" stroke-width="1"/>
<line x1="99.5" y1="412" x2="99.5" y2="416.1" stroke="#ff0000" stroke-width="1"/>
<line x1="101.5" y1="412" x2="101.5" y2="418.7" stroke="#ff0000" stroke-width="1"/>
<line x1="103.5" y1="412" x2="103.5" y2="419.0" stroke="#ff0000" stroke-width="1"/>
<line x1="105.5" y1="412" x2="105.5" y2="417.2" stroke="#ff0000" stroke-width="1"/>
<line x1="107.5" y1="412" x2="107.5" y2="415.3" stroke="#ff0000" stroke-width="1"/>
<line x1="109.5" y1="411" x2="109.5" y2="410.0" stroke="#0000ff" stroke-width="1"/>
<line x1="110.5" y1="411" x2="110.5" y2="405.4" stroke="#0000ff" stroke-width="1"/>
<line x1="112.5" y1="411" x2="112.5" y2="398.1" stroke="#0000ff" stroke-width="1"/>
<line x1="114.5" y1="411" x2="114.5" y2="388.8" stroke="#0000ff" stroke-width="1"/>
<line x1="116.5" y1="411" x2="116.5" y2="376.2" stroke="#0000ff" stroke-width="1"/>
<line x1="118.5" y1="411" x2="118.5" y2="368.5" stroke="#0000ff" stroke-width="1"/>
<line x1="119.5" y1="411" x2="119.5" y2="362.6" stroke="#0000ff" stroke-width="1"/>
<line x1="121.5" y1="411" x2="121.5" y2="363.4" stroke="#0000ff" stroke-width="1"/>
<line x1="123.5" y1="411" x2="123.5" y2="366.0" stroke="#0000ff" stroke-width="1"/>
<line x1="125.5" y1="411" x2="125.5" y2="369.0" stroke="#0000ff" stroke-width="1"/>
<line x1="127.5" y1="411" x2="127.5" y2="367.4" stroke="#0000ff" stroke-width="1"/>
<line x1="129.5" y1="411" x2="129.5" y2="352.3" stroke="#0000ff" stroke-width="1"/>
<line x1="130.5" y1="411" x2="130.5" y2="362.0" stroke="#0000ff" stroke-width="1"/>
<line x1="132.5" y1="411" x2="132.5" y2="374.4" stroke="#0000ff" stroke-width="1"/>
<line x1="134.5" y1="411" x2="134.5" y2="370.8" stroke="#0000ff" stroke-width="1"/>
<line x1="136.5" y1="411" x2="136.5" y2="370.6" stroke="#0000ff" stroke-width="1"/>
<line x1="138.5" y1="411" x2="138.5" y2="372.2" stroke="#0000ff" stroke-width="1"/>
<line x1="140.5" y1="411" x2="140.5" y2="375.2" stroke="#0000ff" stroke-width="1"/>
<line x1="141.5" y1="411" x2="141.5" y2="377.9" stroke="#0000ff" stroke-width="1"/>
<line x1="143.5" y1="411" x2="143.5" y2="380.6" stroke="#0000ff" stroke-width="1"/>
<line x1="145.5" y1="411" x2="145.5" y2="390.1" stroke="#0000ff" stroke-width="1"/>
<line x1="147.5" y1="411" x2="147.5" y2="397.2" stroke="#0000ff" stroke-width="1"/>
<line x1="149.5" y1="411" x2="149.5" y2="402.2" stroke="#0000ff" stroke-width="1"/>
<line x1="151.5" y1="411" x2="151.5" y2="400.1" stroke="#0000ff" stroke-width="1"/>
<line x1="152.5" y1="411" x2="152.5" y2="402.4" stroke="#0000ff" stroke-width="1"/>
<line x1="154.5" y1="411" x2="154.5" y2="405.1" stroke="#0000ff" stroke-width="1"/>
<line x1="156.5" y1="411" x2="156.5" y2="406.8" stroke="#0000ff" stroke-width="1"/>
<line x1="158.5" y1="411" x2="158.5" y2="404.5" stroke="#0000ff" stroke-width="1"/>
<line x1="160.5" y1="411" x2="160.5" y2="403.0" stroke="#0000ff" stroke-width="1"/>
<line x1="162.5" y1="411" x2="162.5" y2="401.6" stroke="#0000ff" stroke-width="1"/>
<line x1="163.5" y1="411" x2="163.5" y2="400.1" stroke="#0000ff" stroke-width="1"/>
<line x1="165.5" y1="411" x2="165.5" y2="406.4" stroke="#0000ff" stroke-width="1"/>
<line x1="167.5" y1="411" x2="167.5" y2="410.1" stroke="#0000ff" stroke-width="1"/>
<line x1="169.5" y1="412" x2="169.5" y2="412.2" stroke="#ff0000" stroke-width="1"/>
<line x1="173.5" y1="411" x2="173.5" y2="406.9" stroke="#0000ff" stroke-width="1"/>
<line x1="174.5" y1="411" x2="174.5" y2="403.9" stroke="#0000ff" stroke-width="1"/>
<line x1="176.5" y1="411" x2="176.5" y2="401.6" stroke="#0000ff" stroke-width="1"/>
<line x1="178.5" y1="411" x2="178.5" y2="399.4" stroke="#0000ff" stroke-width="1"/>
<line x1="180.5" y1="411" x2="180.5" y2="396.9" stroke="#0000ff" stroke-width="1"/>
<line x1="182.5" y1="411" x2="182.5" y2="393.4" stroke="#0000ff" stroke-width="1"/>
<line x1="184.5" y1="411" x2="184.5" y2="390.0" stroke="#0000ff" stroke-width="1"/>
<line x1="185.5" y1="411" x2="185.5" y2="385.4" stroke="#0000ff" stroke-width="1"/>
<line x1="187.5" y1="411" x2="187.5" y2="384.3" stroke="#0000ff" stroke-width="1"/>
<line x1="189.5" y1="411" x2="189.5" y2="385.3" stroke="#0000ff" stroke-width="1"/>
<line x1="191.5" y1="411" x2="191.5" y2="381.2" stroke="#0000ff" stroke-width="1"/>
<line x1="193.5" y1="411" x2="193.5" y2="361.1" stroke="#0000ff" stroke-width="1"/>
<line x1="194.5" y1="411" x2="194.5" y2="367.3" stroke="#0000ff" stroke-width="1"/>
<line x1="196.5" y1="411" x2="196.5" y2="373.7" stroke="#0000ff" stroke-width="1"/>
<line x1="198.5" y1="411" x2="198.5" y2="372.7" stroke="#0000ff" stroke-width="1"/>
<line x1="200.5" y1="411" x2="200.5" y2="368.5" stroke="#0000ff" stroke-width="1"/>
<line x1="202.5" y1="411" x2="202.5" y2="367.5" stroke="#0000ff" stroke-width="1"/>
<line x1="204.5" y1="411" x2="204.5" y2="366.5" stroke="#0000ff" stroke-width="1"/>
<line x1="205.5" y1="411" x2="205.5" y2="364.6" stroke="#0000ff" stroke-width="1"/>
<line x1="207.5" y1="411" x2="207.5" y2="361.8" stroke="#0000ff" stroke-width="1"/>
<line x1="209.5" y1="411" x2="209.5" y2="358.5" stroke="#0000ff" stroke-width="1"/>
<line x1="211.5" y1="411" x2="211.5" y2="366.9" stroke="#0000ff" stroke-width="1"/>
<line x1="213.5" y1="411" x2="213.5" y2="374.1" stroke="#0000ff" stroke-width="1"/>
<line x1="215.5" y1="411" x2="215.5" y2="374.6" stroke="#0000ff" stroke-width="1"/>
<line x1="216.5" y1="411" x2="216.5" y2="367.3" stroke="#0000ff" stroke-width="1"/>
<line x1="218.5" y1="411" x2="218.5" y2="363.6" stroke="#0000ff" stroke-width="1"/>
<line x1="220.5" y1="411" x2="220.5" y2="361.5" stroke="#0000ff" stroke-width="1"/>
<line x1="222.5" y1="411" x2="222.5" y2="361.0" stroke="#0000ff" stroke-width="1"/>
<line x1="224.5" y1="411" x2="224.5" y2="361.0" stroke="#0000ff" stroke-width="1"/>
<line x1="226.5" y1="411" x2="226.5" y2="362.3" stroke="#0000ff" stroke-width="1"/>
<line x1="227.5" y1="411" x2="227.5" y2="364.6" stroke="#0000ff" stroke-width="1"/>
<line x1="229.5" y1="411" x2="229.5" y2="364.9" stroke="#0000ff" stroke-width="1"/>
<line x1="231.5" y1="411" x2="231.5" y2="362.3" stroke="#0000ff" stroke-width="1"/>
<line x1="233.5" y1="411" x2="233.5" y2="360.5" stroke="#0000ff" stroke-width="1"/>
<line x1="235.5" y1="411" x2="235.5" y2="359.7" stroke="#0000ff" stroke-width="1"/>
<line x1="237.5" y1="411" x2="237.5" y2="361.2" stroke="#0000ff" stroke-width="1"/>
<line x1="238.5" y1="411" x2="238.5" y2="362.8" stroke="#0000ff" stroke-width="1"/>
<line x1="240.5" y1="411" x2="240.5" y2="364.9" stroke="#0000ff" stroke-width="1"/>
<line x1="242.5" y1="411" x2="242.5" y2="367.7" stroke="#0000ff" stroke-width="1"/>
<line x1="244.5" y1="411" x2="244.5" y2="371.1" stroke="#0000ff" stroke-width="1"/>
<line x1="246.5" y1="411" x2="246.5" y2="376.0" stroke="#0000ff" stroke-width="1"/>
<line x1="248.5" y1="411" x2="248.5" y2="376.0" stroke="#0000ff" stroke-width="1"/>
<line x1="249.5" y1="411" x2="249.5" y2="372.9" stroke="#0000ff" stroke-width="1"/>
<line x1="251.5" y1="411" x2="251.5" y2="368.8" stroke="#0000ff" stroke-width="1"/>
<line x1="253.5" y1="411" x2="253.5" y2="368.8" stroke="#0000ff" stroke-width="1"/>
<line x1="255.5" y1="411" x2="255.5" y2="382.4" stroke="#0000ff" stroke-width="1"/>
<line x1="257.5" y1="411" x2="257.5" y2="395.2" stroke="#0000ff" stroke-width="1"/>
<line x1="259.5" y1="411" x2="259.5" y2="402.6" stroke="#0000ff" stroke-width="1"/>
<line x1="260.5" y1="411" x2="260.5" y2="407.3" stroke="#0000ff" stroke-width="1"/>
<line x1="262.5" y1="411" x2="262.5" y2="409.8" stroke="#0000ff" stroke-width="1"/>
<line x1="264.5" y1="411" x2="264.5" y2="408.0" stroke="#0000ff" stroke-width="1"/>
<line x1="266.5" y1="411" x2="266.5" y2="408.8" stroke="#0000ff" stroke-width="1"/>
<line x1="269.5" y1="412" x2="269.5" y2="416.4" stroke="#ff0000" stroke-width="1"/>
<line x1="271.5" y1="412" x2="271.5" y2="418.1" stroke="#ff0000" stroke-width="1"/>
<line x1="273.5" y1="412" x2="273.5" y2="417.5" stroke="#ff0000" stroke-width="1"/>
<line x1="275.5" y1="412" x2="275.5" y2="415.6" stroke="#ff0000" stroke-width="1"/>
<line x1="277.5" y1="412" x2="277.5" y2="416.6" stroke="#ff0000" stroke-width="1"/>
<line x1="279.5" y1="412" x2="279.5" y2="418.9" stroke="#ff0000" stroke-width="1"/>
<line x1="280.5" y1="412" x2="280.5" y2="418.2" stroke="#ff0000" stroke-width="1"/>
<line x1="282.5" y1="412" x2="282.5" y2="414.8" stroke="#ff0000" stroke-width="1"/>
<line x1="284.5" y1="412" x2="284.5" y2="423.5" stroke="#ff0000" stroke-width="1"/>
<line x1="286.5" y1="412" x2="286.5" y2="429.4" stroke="#ff0000" stroke-width="1"/>
<line x1="288.5" y1="412" x2="288.5" y2="430.3" stroke="#ff0000" stroke-width="1"/>
<line x1="290.5" y1="412" x2="290.5" y2="420.9" stroke="#ff0000" stroke-width="1"/>
<line x1="291.5" y1="412" x2="291.5" y2="436.8" stroke="#ff0000" stroke-width="1"/>
<line x1="293.5" y1="412" x2="293.5" y2="437.7" stroke="#ff0000" stroke-width="1"/>
<line x1="295.5" y1="412" x2="295.5" y2="435.5" stroke="#ff0000" stroke-width="1"/>
<line x1="297.5" y1="412" x2="297.5" y2="433.9" stroke="#ff0000" stroke-width="1"/>
<line x1="299.5" y1="412" x2="299.5" y2="432.4" stroke="#ff0000" stroke-width="1"/>
<line x1="301.5" y1="412" x2="301.5" y2="426.7" stroke="#ff0000" stroke-width="1"/>
<line x1="302.5" y1="412" x2="302.5" y2="419.3" stroke="#ff0000" stroke-width="1"/>
<line x1="306.5" y1="411" x2="306.5" y2="403.5" stroke="#0000ff" stroke-width="1"/>
<line x1="308.5" y1="411" x2="308.5" y2="404.8" stroke="#0000ff" stroke-width="1"/>
<line x1="310.5" y1="411" x2="310.5" y2="403.5" stroke="#0000ff" stroke-width="1"/>
<line x1="312.5" y1="411" x2="312.5" y2="401.7" stroke="#0000ff" stroke-width="1"/>
<line x1="313.5" y1="411" x2="313.5" y2="401.9" stroke="#0000ff" stroke-width="1"/>
<line x1="315.5" y1="411" x2="315.5" y2="402.3" stroke="#0000ff" stroke-width="1"/>
<line x1="317.5" y1="411" x2="317.5" y2="398.7" stroke="#0000ff" stroke-width="1"/>
<line x1="319.5" y1="411" x2="319.5" y2="395.6" stroke="#0000ff" stroke-width="1"/>
<line x1="321.5" y1="411" x2="321.5" y2="401.1" stroke="#0000ff" stroke-width="1"/>
<line x1="323.5" y1="411" x2="323.5" y2="407.1" stroke="#0000ff" stroke-width="1"/>
<line x1="324.5" y1="412" x2="324.5" y2="419.5" stroke="#ff0000" stroke-width="1"/>
<line x1="326.5" y1="412" x2="326.5" y2="434.1" stroke="#ff0000" stroke-width="1"/>
<line x1="328.5" y1="412" x2="328.5" y2="430.2" stroke="#ff0000" stroke-width="1"/>
<line x1="330.5" y1="412" x2="330.5" y2="419.4" stroke="#ff0000" stroke-width="1"/>
<line x1="332.5" y1="412" x2="332.5" y2="419.7" stroke="#ff0000" stroke-width="1"/>
<line x1="334.5" y1="412" x2="334.5" y2="426.2" stroke="#ff0000" stroke-width="1"/>
<line x1="335.5" y1="412" x2="335.5" y2="432.7" stroke="#ff0000" stroke-width="1"/>
<line x1="337.5" y1="412" x2="337.5" y2="431.5" stroke="#ff0000" stroke-width="1"/>
<line x1="339.5" y1="412" x2="339.5" y2="426.0" stroke="#ff0000" stroke-width="1"/>
<line x1="341.5" y1="412" x2="341.5" y2="429.4" stroke="#ff0000" stroke-width="1"/>
<line x1="343.5" y1="412" x2="343.5" y2="432.8" stroke="#ff0000" stroke-width="1"/>
<line x1="344.5" y1="412" x2="344.5" y2="436.2" stroke="#ff0000" stroke-width="1"/>
<line x1="346.5" y1="412" x2="346.5" y2="439.7" stroke="#ff0000" stroke-width="1"/>
<line x1="348.5" y1="412" x2="348.5" y2="431.5" stroke="#ff0000" stroke-width="1"/>
<line x1="350.5" y1="412" x2="350.5" y2="424.2" stroke="#ff0000" stroke-width="1"/>
<line x1="352.5" y1="412" x2="352.5" y2="423.0" stroke="#ff0000" stroke-width="1"/>
<line x1="354.5" y1="412" x2="354.5" y2="421.7" stroke="#ff0000" stroke-width="1"/>
<line x1="355.5" y1="412" x2="355.5" y2="419.1" stroke="#ff0000" stroke-width="1"/>
<line x1="357.5" y1="412" x2="357.5" y2="416.2" stroke="#ff0000" stroke-width="1"/>
<line x1="359.5" y1="412" x2="359.5" y2="413.2" stroke="#ff0000" stroke-width="1"/>
<line x1="361.5" y1="411" x2="361.5" y2="407.2" stroke="#0000ff" stroke-width="1"/>
<line x1="363.5" y1="411" x2="363.5" y2="398.6" stroke="#0000ff" stroke-width="1"/>
<line x1="365.5" y1="411" x2="365.5" y2="390.5" stroke="#0000ff" stroke-width="1"/>
<line x1="366.5" y1="411" x2="366.5" y2="389.7" stroke="#0000ff" stroke-width="1"/>
<line x1="368.5" y1="411" x2="368.5" y2="390.0" stroke="#0000ff" stroke-width="1"/>
<line x1="370.5" y1="411" x2="370.5" y2="384.0" stroke="#0000ff" stroke-width="1"/>
<line x1="372.5" y1="411" x2="372.5" y2="368.2" stroke="#0000ff" stroke-width="1"/>
<line x1="374.5" y1="411" x2="374.5" y2="359.0" stroke="#0000ff" stroke-width="1"/>
<line x1="376.5" y1="411" x2="376.5" y2="398.0" stroke="#0000ff" stroke-width="1"/>
<line x1="377.5" y1="412" x2="377.5" y2="424.7" stroke="#ff0000" stroke-width="1"/>
<line x1="379.5" y1="412" x2="379.5" y2="420.6" stroke="#ff0000" stroke-width="1"/>
<line x1="381.5" y1="412" x2="381.5" y2="416.9" stroke="#ff0000" stroke-width="1"/>
<line x1="383.5" y1="412" x2="383.5" y2="413.2" stroke="#ff0000" stroke-width="1"/>
<line x1="385.5" y1="412" x2="385.5" y2="412.9" stroke="#ff0000" stroke-width="1"/>
<line x1="387.5" y1="412" x2="387.5" y2="417.8" stroke="#ff0000" stroke-width="1"/>
<line x1="388.5" y1="412" x2="388.5" y2="422.7" stroke="#ff0000" stroke-width="1"/>
<line x1="390.5" y1="412" x2="390.5" y2="423.4" stroke="#ff0000" stroke-width="1"/>
<line x1="392.5" y1="412" x2="392.5" y2="423.9" stroke="#ff0000" stroke-width="1"/>
<line x1="394.5" y1="412" x2="394.5" y2="424.3" stroke="#ff0000" stroke-width="1"/>
<line x1="396.5" y1="412" x2="396.5" y2="421.5" stroke="#ff0000" stroke-width="1"/>
<line x1="398.5" y1="412" x2="398.5" y2="416.9" stroke="#ff0000" stroke-width="1"/>
<line x1="399.5" y1="412" x2="399.5" y2="412.8" stroke="#ff0000" stroke-width="1"/>
<line x1="401.5" y1="411" x2="401.5" y2="410.1" stroke="#0000ff" stroke-width="1"/>
<line x1="403.5" y1="411" x2="403.5" y2="409.6" stroke="#0000ff" stroke-width="1"/>
<line x1="405.5" y1="411" x2="405.5" y2="409.2" stroke="#0000ff" stroke-width="1"/>
<line x1="407.5" y1="411" x2="407.5" y2="408.9" stroke="#0000ff" stroke-width="1"/>
<line x1="410.5" y1="412" x2="410.5" y2="412.4" stroke="#ff0000" stroke-width="1"/>
<line x1="412.5" y1="411" x2="412.5" y2="400.0" stroke="#0000ff" stroke-width="1"/>
<line x1="414.5" y1="411" x2="414.5" y2="376.9" stroke="#0000ff" stroke-width="1"/>
<line x1="416.5" y1="411" x2="416.5" y2="375.2" stroke="#0000ff" stroke-width="1"/>
<line x1="418.5" y1="411" x2="418.5" y2="376.1" stroke="#0000ff" stroke-width="1"/>
<line x1="419.5" y1="411" x2="419.5" y2="377.0" stroke="#0000ff" stroke-width="1"/>
<line x1="421.5" y1="411" x2="421.5" y2="377.8" stroke="#0000ff" stroke-width="1"/>
<line x1="423.5" y1="411" x2="423.5" y2="378.6" stroke="#0000ff" stroke-width="1"/>
<line x1="425.5" y1="411" x2="425.5" y2="376.7" stroke="#0000ff" stroke-width="1"/>
<line x1="427.5" y1="411" x2="427.5" y2="377.7" stroke="#0000ff" stroke-width="1"/>
<line x1="429.5" y1="411" x2="429.5" y2="380.2" stroke="#0000ff" stroke-width="1"/>
<line x1="430.5" y1="411" x2="430.5" y2="383.7" stroke="#0000ff" stroke-width="1"/>
<line x1="432.5" y1="411" x2="432.5" y2="383.2" stroke="#0000ff" stroke-width="1"/>
<line x1="434.5" y1="411" x2="434.5" y2="382.6" stroke="#0000ff" stroke-width="1"/>
<line x1="436.5" y1="411" x2="436.5" y2="385.4" stroke="#0000ff" stroke-width="1"/>
<line x1="438.5" y1="411" x2="438.5" y2="390.7" stroke="#0000ff" stroke-width="1"/>
<line x1="440.5" y1="411" x2="440.5" y2="394.5" stroke="#0000ff" stroke-width="1"/>
<line x1="441.5" y1="411" x2="441.5" y2="395.6" stroke="#0000ff" stroke-width="1"/>
<line x1="443.5" y1="411" x2="443.5" y2="393.0" stroke="#0000ff" stroke-width="1"/>
<line x1="445.5" y1="411" x2="445.5" y2="384.0" stroke="#0000ff" stroke-width="1"/>
<line x1="447.5" y1="411" x2="447.5" y2="377.6" stroke="#0000ff" stroke-width="1"/>
<line x1="449.5" y1="411" x2="449.5" y2="375.6" stroke="#0000ff" stroke-width="1"/>
<line x1="451.5" y1="411" x2="451.5" y2="380.0" stroke="#0000ff" stroke-width="1"/>
<line x1="452.5" y1="411" x2="452.5" y2="380.5" stroke="#0000ff" stroke-width="1"/>
<line x1="454.5" y1="411" x2="454.5" y2="380.9" stroke="#0000ff" stroke-width="1"/>
<line x1="456.5" y1="411" x2="456.5" y2="381.6" stroke="#0000ff" stroke-width="1"/>
<line x1="458.5" y1="411" x2="458.5" y2="382.3" stroke="#0000ff" stroke-width="1"/>
<line x1="460.5" y1="411" x2="460.5" y2="381.6" stroke="#0000ff" stroke-width="1"/>
<line x1="462.5" y1="411" x2="462.5" y2="380.3" stroke="#0000ff" stroke-width="1"/>
<line x1="463.5" y1="411" x2="463.5" y2="381.0" stroke="#0000ff" stroke-width="1"/>
<line x1="465.5" y1="411" x2="465.5" y2="382.3" stroke="#0000ff" stroke-width="1"/>
<line x1="467.5" y1="411" x2="467.5" y2="381.0" stroke="#0000ff" stroke-width="1"/>
<line x1="469.5" y1="411" x2="469.5" y2="379.3" stroke="#0000ff" stroke-width="1"/>
<line x1="471.5" y1="411" x2="471.5" y2="378.1" stroke="#0000ff" stroke-width="1"/>
<line x1="473.5" y1="411" x2="473.5" y2="377.9" stroke="#0000ff" stroke-width="1"/>
<line x1="474.5" y1="411" x2="474.5" y2="379.2" stroke="#0000ff" stroke-width="1"/>
<line x1="476.5" y1="411" x2="476.5" y2="379.1" stroke="#0000ff" stroke-width="1"/>
<line x1="478.5" y1="411" x2="478.5" y2="376.6" stroke="#0000ff" stroke-width="1"/>
<line x1="480.5" y1="411" x2="480.5" y2="371.9" stroke="#0000ff" stroke-width="1"/>
<line x1="482.5" y1="411" x2="482.5" y2="367.5" stroke="#0000ff" stroke-width="1"/>
<line x1="484.5" y1="411" x2="484.5" y2="363.7" stroke="#0000ff" stroke-width="1"/>
<line x1="485.5" y1="411" x2="485.5" y2="361.2" stroke="#0000ff" stroke-width="1"/>
<line x1="487.5" y1="411" x2="487.5" y2="359.3" stroke="#0000ff" stroke-width="1"/>
<line x1="489.5" y1="411" x2="489.5" y2="357.5" stroke="#0000ff" stroke-width="1"/>
<polyline points="70.0,412.5 72.5,420.0 77.5,423.8 82.5,427.5 85.0,420.0 86.0,410.0 89.0,406.0 92.5,406.0 95.0,411.0 96.0,417.5 100.0,416.0 102.5,420.0 105.0,417.5 107.5,415.0 109.0,410.0 111.0,405.0 114.0,392.5 116.0,377.5 119.0,365.0 120.0,362.5 122.5,363.8 125.0,368.8 127.0,370.0 129.0,352.5 130.0,351.0 131.0,362.5 132.5,375.0 135.0,370.0 137.5,371.0 140.0,375.0 144.0,381.0 146.0,392.5 149.0,402.5 151.0,400.0 154.0,403.8 156.0,407.5 159.0,403.8 161.0,402.5 164.0,400.0 166.0,407.5 169.0,412.5 171.0,411.0 174.0,405.0 176.0,402.5 180.0,397.5 184.0,390.0 186.0,385.0 189.0,383.8 191.0,390.0 192.0,362.5 194.0,360.0 195.0,367.5 197.5,376.0 200.0,368.8 205.0,366.0 209.0,360.0 210.0,357.5 212.5,373.8 215.0,375.0 217.5,365.0 221.0,361.0 225.0,361.0 229.0,366.0 232.5,361.0 235.0,359.5 240.0,363.8 244.0,370.0 246.0,376.0 249.0,376.0 251.0,368.8 254.0,368.8 255.0,380.0 257.5,397.5 260.0,406.0 262.5,410.0 265.0,407.5 267.5,410.0 269.5,416.0 272.5,418.8 276.0,415.0 280.0,420.0 283.5,413.5 285.0,427.0 288.0,432.0 290.0,420.0 292.2,439.5 296.0,435.0 299.8,432.0 302.8,420.0 305.0,409.5 306.5,403.5 308.8,405.0 312.5,401.2 315.5,402.8 319.2,395.2 321.5,402.0 323.8,409.5 325.2,423.0 327.2,438.0 331.0,415.5 336.5,435.0 339.5,426.0 347.0,440.0 350.0,424.5 354.5,421.5 360.5,411.8 363.5,397.5 365.8,387.8 368.0,391.5 370.2,387.0 372.5,367.5 374.0,356.0 375.5,373.5 376.2,405.0 376.7,427.5 380.0,420.0 384.5,411.0 389.0,423.0 395.0,424.5 398.0,417.0 401.0,410.2 407.0,408.8 410.0,411.8 411.0,412.5 413.0,397.5 414.0,377.5 416.0,375.0 420.0,377.0 424.0,378.8 426.0,376.0 429.0,380.0 431.0,383.8 435.0,382.5 437.5,387.5 439.0,393.8 442.5,396.0 445.0,390.0 446.0,380.0 449.0,375.0 451.0,380.0 455.0,381.0 459.0,382.5 462.5,380.0 466.0,382.5 470.0,378.8 472.5,377.5 476.0,380.0 479.0,376.0 481.0,370.0 484.0,363.8 486.0,361.0 489.5,357.5" fill="none" stroke="#000" stroke-width="1"/>
<polyline points="127.5,396.0 135.0,387.5 142.5,378.8 147.5,375.0 152.5,375.0 157.5,378.8 162.5,385.0 167.5,391.0 172.5,397.5 177.5,401.0 182.5,402.5 190.0,401.0 200.0,394.0 207.5,382.5 215.0,373.8 222.5,366.0 230.0,362.5 240.0,363.8 250.0,366.0 257.5,370.0 262.5,376.0 267.5,385.0 275.0,393.8 282.5,402.5 287.5,410.0 292.5,417.5 297.5,422.5 305.0,423.8 312.5,421.0 320.0,417.5 330.0,415.0 340.0,413.8 344.0,417.0 350.0,420.8 356.0,423.8 362.0,426.0 366.5,421.5 371.0,417.8 374.0,411.8 380.0,410.2 390.0,408.8 397.5,407.5 405.0,410.0 412.5,416.0 417.5,410.0 425.0,401.0 432.5,393.8 440.0,388.8 445.0,385.0 450.0,382.5 457.5,383.8 465.0,384.5 472.5,383.8 480.0,381.0 485.0,378.8 489.5,377.0" fill="none" stroke="#000" stroke-width="1"/>
<line x1="70" y1="369.5" x2="503" y2="369.5" stroke="#800080" stroke-width="1"/>
<polyline points="66.0,182.5 75.0,179.5 85.0,176.0 92.5,175.2 100.0,176.2 107.5,178.2 115.0,177.5 122.5,175.0 128.8,173.5 135.0,174.2 142.5,177.5 150.0,183.8 156.2,191.2 162.5,198.8 170.0,206.2 177.5,212.0 185.0,215.5 192.5,217.0 200.0,218.0 207.5,217.0 209.5,216.5 215.5,214.2 221.5,209.8 227.5,203.8 235.0,195.5 242.5,187.2 248.0,181.0 252.5,177.5 260.0,174.0 265.0,171.2 271.2,167.0 277.5,164.4 283.8,163.1 291.2,163.1 296.2,165.0 307.5,165.6 312.5,164.4 318.8,164.0 326.2,164.0 330.0,167.0 335.0,171.2 340.0,175.6 346.2,182.0 352.5,187.0 358.8,189.4 365.0,190.0 372.5,186.0 380.0,177.5 387.5,168.8 395.0,163.0 400.0,161.0 407.5,155.0 415.0,150.5 422.5,149.5 430.0,146.0 437.5,141.0 446.0,129.5 450.5,120.5 455.0,111.5 459.5,104.0 464.0,98.0 467.5,94.5 475.0,83.8 480.0,76.0 485.0,67.5 488.8,57.5" fill="none" stroke="#800000" stroke-width="1"/>
<polyline points="70.0,243.8 77.5,239.5 85.0,238.0 92.5,238.0 100.0,239.5 107.5,240.5 115.0,239.5 122.5,238.0 130.0,237.5 137.5,238.2 143.8,240.5 150.0,244.5 156.2,248.8 162.5,253.8 170.0,260.0 177.5,265.0 185.0,267.5 192.5,268.0 200.0,268.5 207.5,268.8 215.0,266.0 222.5,261.0 230.0,255.0 237.5,248.8 245.0,242.5 252.5,237.5 260.0,233.8 267.5,231.0 275.0,230.0 282.5,229.5 290.0,230.0 300.0,231.0 310.0,231.0 320.0,229.5 327.5,231.0 335.0,236.0 342.5,242.0 350.0,246.0 357.5,248.0 365.0,248.0 372.5,245.0 380.0,238.8 387.5,232.5 395.0,227.5 402.5,223.8 410.0,220.0 417.5,217.0 425.0,215.0 432.5,212.5 440.0,209.5 445.0,206.0 450.0,200.0 455.0,193.0 461.0,185.0 470.0,176.8 477.5,168.5 485.0,159.5 488.5,154.5" fill="none" stroke="#800000" stroke-width="1"/>
<polyline points="70.0,213.8 75.0,210.0 80.0,208.0 87.5,207.5 95.0,207.5 100.0,208.8 105.0,210.0 112.5,209.5 120.0,208.0 127.5,205.5 135.0,205.5 142.5,207.0 150.0,212.5 156.2,220.0 162.5,228.8 170.0,235.0 177.5,240.0 185.0,243.0 192.5,243.0 196.0,243.5 205.0,243.5 211.0,242.0 217.0,239.0 223.0,233.0 229.0,227.0 235.0,221.0 241.0,215.8 247.0,212.0 252.5,207.5 260.0,205.0 265.0,203.0 271.2,199.4 277.5,197.5 283.8,197.0 290.0,196.6 296.2,197.5 302.5,198.0 308.8,198.5 315.0,198.0 318.8,197.5 326.2,197.5 331.2,200.0 336.2,203.8 341.2,208.8 346.2,213.8 352.5,217.5 358.8,219.4 365.0,219.8 372.5,214.0 380.0,207.0 387.5,199.5 395.0,195.0 400.0,192.0 407.5,187.5 415.0,184.5 422.5,183.8 427.5,181.0 435.0,176.0 440.0,173.0 446.0,167.0 452.0,158.0 458.0,147.5 464.0,138.5 470.0,131.0 476.0,124.2 482.0,118.2 486.5,111.5 489.0,106.0" fill="none" stroke="#ff0000" stroke-width="1"/>
<polyline points="150.0,212.0 160.0,213.0 170.0,215.0 180.0,218.0 190.0,221.8 200.0,225.5 212.5,226.8 225.0,228.0 237.5,228.8 250.0,228.2 260.0,226.0 270.0,223.0 280.0,219.5 290.0,215.8 300.0,212.0 310.0,208.0 317.5,205.0 321.2,203.0 326.2,202.0 335.0,202.2 342.5,204.0 355.0,204.0 365.0,204.0 375.0,204.0 385.0,203.5 395.0,202.8 400.0,202.0 412.5,200.0 425.0,198.0 435.0,196.0 442.5,193.5 449.0,189.0 455.0,182.0 462.5,176.0 470.0,170.8 477.5,164.8 485.0,158.0 489.5,151.7" fill="none" stroke="#800080" stroke-width="2" stroke-linejoin="round"/>
<path d="M34.5,222.5V224.8M33.0,223.9h1.5M34.5,223.7h1.5M35.5,222.5V225.0M34.0,223.7h1.5M35.5,223.4h1.5M37.5,221.9V224.1M36.0,222.9h1.5M37.5,223.2h1.5M39.5,223.0V225.3M38.0,223.6h1.5M39.5,224.6h1.5M41.5,223.5V226.6M40.0,224.5h1.5M41.5,225.3h1.5M43.5,223.3V225.9M42.0,225.3h1.5M43.5,224.1h1.5M44.5,222.2V225.0M43.0,224.3h1.5M44.5,223.5h1.5M46.5,219.9V224.4M45.0,223.7h1.5M46.5,221.4h1.5M48.5,217.6V222.2M47.0,221.4h1.5M48.5,219.1h1.5M50.5,217.5V223.0M49.0,219.1h1.5M50.5,220.8h1.5M52.5,215.0V222.2M51.0,221.2h1.5M52.5,215.7h1.5M54.5,212.4V216.5M53.0,215.0h1.5M54.5,213.7h1.5M55.5,211.1V213.8M54.0,213.3h1.5M55.5,212.5h1.5M57.5,206.1V212.7M56.0,212.1h1.5M57.5,207.9h1.5M59.5,199.6V209.8M58.0,208.3h1.5M59.5,200.2h1.5M61.5,197.1V201.5M60.0,200.5h1.5M61.5,199.7h1.5M63.5,199.1V200.8M62.0,200.0h1.5M63.5,200.0h1.5M65.5,197.8V201.2M64.0,199.6h1.5M65.5,200.1h1.5M66.5,198.7V203.0M65.0,201.1h1.5M66.5,200.5h1.5M68.5,199.9V202.4M67.0,200.9h1.5M68.5,200.6h1.5M70.5,199.0V204.4M69.0,200.4h1.5M70.5,201.4h1.5M72.5,198.3V203.9M71.0,202.0h1.5M72.5,200.0h1.5M74.5,200.4V203.0M73.0,201.1h1.5M74.5,201.5h1.5M76.5,199.7V203.9M75.0,200.5h1.5M76.5,202.5h1.5M77.5,202.7V212.0M76.0,203.3h1.5M77.5,208.3h1.5M79.5,204.9V210.4M78.0,209.2h1.5M79.5,208.0h1.5M81.5,205.9V210.6M80.0,207.0h1.5M81.5,208.9h1.5M83.5,207.2V217.8M82.0,207.7h1.5M83.5,215.7h1.5M85.5,210.4V221.0M84.0,212.9h1.5M85.5,215.0h1.5M87.5,212.4V218.9M86.0,213.9h1.5M87.5,217.9h1.5M88.5,217.9V225.1M87.0,218.6h1.5M88.5,220.8h1.5M90.5,214.3V224.7M89.0,223.0h1.5M90.5,216.5h1.5M92.5,213.3V219.4M91.0,218.2h1.5M92.5,215.4h1.5M94.5,207.4V216.3M93.0,214.6h1.5M94.5,209.4h1.5M96.5,206.6V211.7M95.0,209.0h1.5M96.5,211.0h1.5M98.5,206.9V213.7M97.0,211.2h1.5M98.5,208.4h1.5M99.5,204.3V213.0M98.0,208.1h1.5M99.5,208.6h1.5M101.5,207.2V213.7M100.0,208.5h1.5M101.5,211.2h1.5M103.5,205.0V212.3M102.0,211.4h1.5M103.5,209.0h1.5M105.5,203.2V207.9M104.0,207.1h1.5M105.5,206.0h1.5M107.5,199.6V212.2M106.0,206.1h1.5M107.5,202.6h1.5M109.5,201.8V207.0M108.0,203.1h1.5M109.5,202.6h1.5M110.5,198.4V205.3M109.0,201.4h1.5M110.5,199.9h1.5M112.5,196.0V203.2M111.0,200.8h1.5M112.5,199.1h1.5M114.5,197.0V201.9M113.0,199.8h1.5M114.5,198.8h1.5M116.5,195.9V202.6M115.0,198.3h1.5M116.5,201.0h1.5M118.5,197.7V204.6M117.0,201.5h1.5M118.5,204.0h1.5M119.5,202.5V205.9M118.0,203.2h1.5M119.5,203.2h1.5M121.5,198.4V205.6M120.0,203.8h1.5M121.5,201.2h1.5M123.5,199.8V203.2M122.0,201.4h1.5M123.5,202.6h1.5M125.5,197.5V204.6M124.0,201.7h1.5M125.5,200.7h1.5M127.5,199.6V208.3M126.0,200.9h1.5M127.5,205.5h1.5M129.5,203.5V212.5M128.0,206.0h1.5M129.5,210.7h1.5M130.5,209.7V214.4M129.0,211.3h1.5M130.5,211.8h1.5M132.5,210.9V219.2M131.0,212.6h1.5M132.5,215.4h1.5M134.5,213.1V217.3M133.0,214.9h1.5M134.5,216.1h1.5M136.5,214.4V220.0M135.0,216.8h1.5M136.5,216.6h1.5M138.5,214.0V217.1M137.0,214.7h1.5M138.5,215.6h1.5M140.5,215.0V218.1M139.0,215.8h1.5M140.5,216.0h1.5M141.5,213.6V219.8M140.0,215.4h1.5M141.5,216.5h1.5M143.5,215.5V223.1M142.0,216.4h1.5M143.5,222.4h1.5M145.5,221.2V229.1M144.0,222.2h1.5M145.5,226.6h1.5M147.5,226.6V230.8M146.0,227.9h1.5M147.5,230.2h1.5M149.5,229.1V235.1M148.0,230.2h1.5M149.5,233.6h1.5M151.5,231.7V243.5M150.0,233.8h1.5M151.5,241.2h1.5M152.5,237.5V252.2M151.0,240.0h1.5M152.5,246.4h1.5M154.5,243.8V254.3M153.0,245.7h1.5M154.5,253.5h1.5M156.5,247.4V255.5M155.0,253.6h1.5M156.5,248.2h1.5M158.5,237.3V252.3M157.0,249.2h1.5M158.5,238.7h1.5M160.5,233.0V240.4M159.0,237.4h1.5M160.5,236.6h1.5M162.5,232.6V242.2M161.0,236.3h1.5M162.5,240.2h1.5M163.5,237.0V245.1M162.0,241.1h1.5M163.5,240.9h1.5M165.5,235.0V245.2M164.0,241.9h1.5M165.5,238.4h1.5M167.5,236.6V242.7M166.0,238.0h1.5M167.5,241.0h1.5M169.5,236.2V242.5M168.0,238.9h1.5M169.5,239.2h1.5M171.5,233.9V242.8M170.0,241.6h1.5M171.5,240.6h1.5M173.5,235.3V245.0M172.0,240.1h1.5M173.5,237.9h1.5M174.5,234.4V243.7M173.0,237.0h1.5M174.5,242.0h1.5M176.5,238.8V241.9M175.0,241.4h1.5M176.5,239.8h1.5M178.5,238.5V244.9M177.0,239.4h1.5M178.5,243.1h1.5M180.5,241.1V246.3M179.0,244.8h1.5M180.5,242.4h1.5M182.5,239.8V245.6M181.0,242.2h1.5M182.5,242.1h1.5M184.5,240.3V247.3M183.0,241.7h1.5M184.5,246.5h1.5M185.5,244.4V251.8M184.0,247.8h1.5M185.5,245.8h1.5M187.5,242.7V247.8M186.0,244.8h1.5M187.5,244.9h1.5M189.5,241.9V250.4M188.0,245.9h1.5M189.5,245.1h1.5M191.5,242.8V248.2M190.0,247.2h1.5M191.5,245.9h1.5M193.5,241.3V246.7M192.0,245.6h1.5M193.5,244.4h1.5M194.5,241.1V246.7M193.0,244.3h1.5M194.5,245.7h1.5M196.5,241.1V248.4M195.0,246.9h1.5M196.5,244.0h1.5M198.5,240.8V246.9M197.0,243.6h1.5M198.5,245.8h1.5M200.5,244.5V251.0M199.0,245.2h1.5M200.5,248.4h1.5M202.5,243.6V253.4M201.0,249.1h1.5M202.5,245.7h1.5M204.5,240.9V248.9M203.0,245.9h1.5M204.5,242.3h1.5M205.5,236.8V243.0M204.0,242.1h1.5M205.5,237.3h1.5M207.5,231.6V240.0M206.0,238.0h1.5M207.5,232.8h1.5M209.5,222.4V236.3M208.0,233.9h1.5M209.5,225.3h1.5M211.5,222.6V227.9M210.0,226.1h1.5M211.5,223.1h1.5M213.5,216.1V224.8M212.0,222.9h1.5M213.5,218.0h1.5M215.5,215.5V221.0M214.0,217.9h1.5M215.5,216.8h1.5M216.5,213.8V218.8M215.0,215.9h1.5M216.5,216.2h1.5M218.5,213.3V219.6M217.0,215.6h1.5M218.5,214.0h1.5M220.5,208.5V218.0M219.0,213.5h1.5M220.5,210.7h1.5M222.5,209.1V215.3M221.0,214.1h1.5M222.5,210.4h1.5M224.5,208.7V213.3M223.0,211.9h1.5M224.5,209.3h1.5M226.5,207.7V212.0M225.0,208.4h1.5M226.5,210.6h1.5M227.5,208.3V212.0M226.0,211.4h1.5M227.5,210.0h1.5M229.5,206.7V213.9M228.0,208.1h1.5M229.5,213.3h1.5M231.5,209.8V214.4M230.0,213.2h1.5M231.5,213.9h1.5M233.5,210.0V215.0M232.0,214.2h1.5M233.5,210.9h1.5M235.5,206.2V211.5M234.0,210.5h1.5M235.5,207.6h1.5M237.5,204.6V214.8M236.0,208.2h1.5M237.5,209.3h1.5M238.5,204.3V212.2M237.0,209.1h1.5M238.5,209.9h1.5M240.5,206.4V212.7M239.0,210.3h1.5M240.5,207.9h1.5M242.5,207.1V209.0M241.0,207.8h1.5M242.5,208.3h1.5M244.5,205.2V210.9M243.0,206.6h1.5M244.5,208.5h1.5M246.5,205.6V209.1M245.0,207.5h1.5M246.5,206.5h1.5M248.5,197.8V209.2M247.0,206.5h1.5M248.5,201.0h1.5M249.5,192.8V201.1M248.0,199.1h1.5M249.5,194.6h1.5M251.5,188.7V194.9M250.0,194.0h1.5M251.5,192.7h1.5M253.5,191.6V198.6M252.0,194.8h1.5M253.5,192.2h1.5M255.5,188.5V196.1M254.0,191.5h1.5M255.5,193.7h1.5M257.5,191.9V195.6M256.0,192.5h1.5M257.5,193.5h1.5M259.5,191.8V196.1M258.0,193.3h1.5M259.5,194.2h1.5M260.5,192.3V197.4M259.0,194.2h1.5M260.5,195.3h1.5M262.5,193.6V198.8M261.0,197.1h1.5M262.5,194.8h1.5M264.5,192.0V194.8M263.0,193.9h1.5M264.5,194.0h1.5M266.5,192.7V199.1M265.0,194.0h1.5M266.5,196.1h1.5M268.5,192.7V198.2M267.0,196.1h1.5M268.5,195.1h1.5M269.5,193.5V196.7M268.0,195.8h1.5M269.5,195.0h1.5M271.5,194.0V199.0M270.0,195.2h1.5M271.5,194.5h1.5M273.5,191.1V195.1M272.0,194.2h1.5M273.5,193.6h1.5M275.5,192.8V198.2M274.0,193.5h1.5M275.5,197.1h1.5M277.5,192.5V200.2M276.0,196.4h1.5M277.5,198.7h1.5M279.5,198.0V202.6M278.0,199.4h1.5M279.5,200.5h1.5M280.5,197.1V201.4M279.0,200.4h1.5M280.5,199.0h1.5M282.5,196.1V200.3M281.0,198.9h1.5M282.5,197.4h1.5M284.5,195.6V200.6M283.0,196.6h1.5M284.5,197.7h1.5M286.5,197.4V199.1M285.0,197.9h1.5M286.5,198.1h1.5M288.5,196.2V201.8M287.0,199.2h1.5M288.5,199.2h1.5M290.5,194.8V199.8M289.0,198.9h1.5M290.5,199.0h1.5M291.5,197.7V202.9M290.0,199.8h1.5M291.5,201.6h1.5M293.5,196.2V202.5M292.0,201.5h1.5M293.5,200.2h1.5M295.5,195.3V200.2M294.0,199.4h1.5M295.5,198.6h1.5M297.5,196.0V200.0M296.0,198.4h1.5M297.5,197.7h1.5M299.5,196.6V198.6M298.0,197.9h1.5M299.5,197.9h1.5M301.5,194.7V199.1M300.0,198.3h1.5M301.5,196.3h1.5M302.5,195.1V198.9M301.0,195.9h1.5M302.5,196.5h1.5M304.5,195.9V200.8M303.0,196.5h1.5M304.5,199.2h1.5M306.5,196.8V202.8M305.0,200.2h1.5M306.5,197.8h1.5M308.5,194.1V200.6M307.0,198.3h1.5M308.5,195.3h1.5M310.5,193.8V196.2M309.0,194.8h1.5M310.5,194.3h1.5M312.5,191.9V198.5M311.0,196.4h1.5M312.5,195.1h1.5M313.5,194.3V197.3M312.0,195.2h1.5M313.5,195.0h1.5M315.5,193.0V195.5M314.0,194.8h1.5M315.5,194.0h1.5M317.5,192.1V196.4M316.0,194.6h1.5M317.5,195.2h1.5M319.5,192.8V197.7M318.0,195.9h1.5M319.5,193.6h1.5M321.5,191.0V195.5M320.0,192.2h1.5M321.5,194.7h1.5M323.5,193.1V197.8M322.0,193.7h1.5M323.5,196.2h1.5M324.5,195.5V199.6M323.0,196.5h1.5M324.5,197.7h1.5M326.5,192.6V205.8M325.0,194.6h1.5M326.5,202.4h1.5M328.5,209.4V218.1M327.0,212.1h1.5M328.5,216.5h1.5M330.5,216.5V225.7M329.0,218.0h1.5M330.5,224.7h1.5M332.5,222.7V227.9M331.0,224.1h1.5M332.5,225.4h1.5M334.5,223.5V234.1M333.0,224.9h1.5M334.5,229.9h1.5M335.5,229.3V237.6M334.0,230.4h1.5M335.5,233.2h1.5M337.5,230.7V237.6M336.0,233.9h1.5M337.5,233.7h1.5M339.5,231.3V237.9M338.0,234.2h1.5M339.5,232.6h1.5M341.5,228.3V237.6M340.0,231.1h1.5M341.5,235.7h1.5M343.5,230.6V237.5M342.0,234.7h1.5M343.5,232.1h1.5M344.5,230.5V237.0M343.0,231.1h1.5M344.5,234.1h1.5M346.5,226.3V237.1M345.0,235.0h1.5M346.5,228.8h1.5M348.5,222.3V233.9M347.0,230.3h1.5M348.5,223.7h1.5M350.5,210.4V226.7M349.0,222.3h1.5M350.5,212.8h1.5M352.5,207.4V213.0M351.0,212.1h1.5M352.5,211.0h1.5M354.5,203.9V211.8M353.0,210.5h1.5M354.5,208.0h1.5M355.5,202.8V211.7M354.0,207.6h1.5M355.5,209.9h1.5M357.5,208.7V216.1M356.0,210.1h1.5M357.5,209.6h1.5M359.5,207.4V215.9M358.0,210.6h1.5M359.5,212.0h1.5M361.5,208.8V216.0M360.0,211.3h1.5M361.5,210.1h1.5M363.5,204.8V211.7M362.0,209.8h1.5M363.5,207.2h1.5M365.5,203.1V211.9M364.0,206.8h1.5M365.5,211.3h1.5M366.5,204.3V211.1M365.0,209.3h1.5M366.5,207.1h1.5M368.5,202.1V211.5M367.0,205.4h1.5M368.5,207.3h1.5M370.5,200.9V208.2M369.0,205.0h1.5M370.5,206.8h1.5M372.5,200.2V209.5M371.0,206.5h1.5M372.5,201.6h1.5M374.5,201.0V210.8M373.0,201.9h1.5M374.5,202.5h1.5M376.5,200.4V204.9M375.0,202.8h1.5M376.5,201.4h1.5M377.5,186.8V192.7M376.0,191.7h1.5M377.5,188.6h1.5M379.5,188.7V190.9M378.0,189.4h1.5M379.5,189.3h1.5M381.5,186.1V193.4M380.0,189.7h1.5M381.5,191.1h1.5M383.5,190.2V194.0M382.0,191.2h1.5M383.5,192.5h1.5M385.5,192.3V195.4M384.0,193.8h1.5M385.5,194.3h1.5M387.5,193.1V197.9M386.0,194.9h1.5M387.5,195.1h1.5M388.5,192.6V198.2M387.0,196.0h1.5M388.5,193.8h1.5M390.5,189.2V196.7M389.0,195.5h1.5M390.5,191.0h1.5M392.5,179.9V191.0M391.0,190.4h1.5M392.5,181.5h1.5M394.5,181.1V186.1M393.0,182.1h1.5M394.5,184.1h1.5M396.5,179.8V189.2M395.0,183.9h1.5M396.5,181.0h1.5M398.5,178.2V181.7M397.0,180.5h1.5M398.5,181.0h1.5M399.5,177.5V184.7M398.0,182.1h1.5M399.5,178.5h1.5M401.5,177.9V181.2M400.0,178.9h1.5M401.5,179.6h1.5M403.5,175.1V184.6M402.0,178.8h1.5M403.5,180.2h1.5M405.5,177.9V183.9M404.0,181.2h1.5M405.5,180.0h1.5M407.5,177.8V185.7M406.0,180.0h1.5M407.5,182.7h1.5M409.5,181.0V184.3M408.0,183.0h1.5M409.5,181.7h1.5M410.5,177.3V182.9M409.0,181.8h1.5M410.5,179.9h1.5M412.5,178.4V183.7M411.0,179.4h1.5M412.5,181.6h1.5M414.5,180.4V183.2M413.0,181.4h1.5M414.5,181.8h1.5M416.5,178.4V184.5M415.0,181.5h1.5M416.5,180.6h1.5M418.5,179.5V182.9M417.0,181.2h1.5M418.5,181.7h1.5M419.5,178.6V184.4M418.0,182.0h1.5M419.5,180.7h1.5M421.5,176.6V184.7M420.0,181.2h1.5M421.5,183.2h1.5M423.5,177.7V182.8M422.0,182.2h1.5M423.5,179.8h1.5M425.5,170.5V180.4M424.0,179.1h1.5M425.5,173.1h1.5M427.5,169.6V175.1M426.0,173.3h1.5M427.5,170.6h1.5M429.5,161.6V172.3M428.0,170.0h1.5M429.5,163.9h1.5M430.5,159.6V167.1M429.0,164.8h1.5M430.5,162.5h1.5M432.5,159.8V165.4M431.0,163.1h1.5M432.5,160.5h1.5M434.5,159.0V162.3M433.0,160.0h1.5M434.5,159.8h1.5M436.5,155.4V160.6M435.0,159.4h1.5M436.5,156.5h1.5M438.5,151.7V157.4M437.0,155.0h1.5M438.5,153.0h1.5M440.5,150.2V153.4M439.0,151.9h1.5M440.5,152.1h1.5M441.5,148.6V153.5M440.0,152.6h1.5M441.5,149.7h1.5M443.5,145.8V150.0M442.0,149.2h1.5M443.5,149.3h1.5M445.5,129.7V136.0M444.0,131.5h1.5M445.5,134.3h1.5M447.5,122.5V136.7M446.0,134.4h1.5M447.5,125.5h1.5M449.5,121.0V128.2M448.0,125.3h1.5M449.5,122.9h1.5M451.5,118.0V126.0M450.0,123.0h1.5M451.5,120.1h1.5M452.5,115.9V121.4M451.0,120.7h1.5M452.5,120.0h1.5M454.5,116.4V123.1M453.0,118.7h1.5M454.5,119.8h1.5M456.5,117.1V123.1M455.0,119.1h1.5M456.5,120.7h1.5M458.5,118.2V122.6M457.0,121.9h1.5M458.5,121.1h1.5M460.5,117.2V125.9M459.0,119.2h1.5M460.5,120.9h1.5M462.5,118.6V124.2M461.0,120.4h1.5M462.5,122.9h1.5M463.5,117.6V126.7M462.0,122.2h1.5M463.5,120.3h1.5M465.5,114.2V125.4M464.0,121.2h1.5M465.5,118.5h1.5M467.5,117.2V121.4M466.0,120.1h1.5M467.5,120.2h1.5M469.5,111.1V123.8M468.0,119.9h1.5M469.5,116.8h1.5M471.5,112.4V119.8M470.0,115.6h1.5M471.5,116.7h1.5M473.5,112.4V121.9M472.0,118.8h1.5M473.5,113.1h1.5M474.5,111.2V113.6M473.0,112.5h1.5M474.5,112.9h1.5M476.5,107.8V114.2M475.0,113.0h1.5M476.5,113.3h1.5M478.5,110.5V115.9M477.0,112.6h1.5M478.5,112.5h1.5M480.5,111.1V114.3M479.0,113.4h1.5M480.5,111.7h1.5M482.5,106.3V114.8M481.0,112.8h1.5M482.5,108.1h1.5M484.5,101.4V108.5M483.0,107.9h1.5M484.5,103.0h1.5M485.5,60.0V61.9M484.0,60.7h1.5M485.5,61.1h1.5M487.5,53.2V61.7M486.0,60.8h1.5M487.5,55.6h1.5M489.5,49.5V57.8M488.0,55.7h1.5M489.5,51.6h1.5M358.5,196V220M362.5,209V234M337.5,232V244.5M231.5,206V222.5M155.5,246V266M156.5,246V266M462.5,119V134.5M464.5,120V131M466.5,109.5V123.5M255.5,185V194M318.5,185V194M59.5,196V201" fill="none" stroke="#000" stroke-width="1"/>
<line x1="47.5" y1="207.5" x2="47.5" y2="225" stroke="#ff0000" stroke-width="1"/>
<line x1="58.5" y1="196" x2="58.5" y2="208.75" stroke="#ff0000" stroke-width="1"/>
<line x1="75.5" y1="196" x2="75.5" y2="213.75" stroke="#ff0000" stroke-width="1"/>
<line x1="129.5" y1="208.75" x2="129.5" y2="218.75" stroke="#ff0000" stroke-width="1"/>
<line x1="151.5" y1="242.5" x2="151.5" y2="256" stroke="#ff0000" stroke-width="1"/>
<line x1="155.5" y1="236" x2="155.5" y2="272.5" stroke="#ff0000" stroke-width="1"/>
<line x1="145.5" y1="220" x2="145.5" y2="231.5" stroke="#ff0000" stroke-width="1"/>
<line x1="193.5" y1="239" x2="193.5" y2="251" stroke="#ff0000" stroke-width="1"/>
<line x1="208.5" y1="228.5" x2="208.5" y2="242.75" stroke="#ff0000" stroke-width="1"/>
<line x1="211.5" y1="217.25" x2="211.5" y2="225.5" stroke="#ff0000" stroke-width="1"/>
<line x1="217.5" y1="215" x2="217.5" y2="222.5" stroke="#ff0000" stroke-width="1"/>
<line x1="219.5" y1="206" x2="219.5" y2="214.25" stroke="#ff0000" stroke-width="1"/>
<line x1="228.5" y1="210.5" x2="228.5" y2="222.5" stroke="#ff0000" stroke-width="1"/>
<line x1="246.5" y1="203" x2="246.5" y2="209.75" stroke="#ff0000" stroke-width="1"/>
<line x1="254.5" y1="187.5" x2="254.5" y2="197.5" stroke="#ff0000" stroke-width="1"/>
<line x1="332.5" y1="222.5" x2="332.5" y2="231" stroke="#ff0000" stroke-width="1"/>
<line x1="349.5" y1="202.5" x2="349.5" y2="232.5" stroke="#ff0000" stroke-width="1"/>
<line x1="376.5" y1="171" x2="376.5" y2="195" stroke="#ff0000" stroke-width="1"/>
<line x1="396.5" y1="174" x2="396.5" y2="184.5" stroke="#ff0000" stroke-width="1"/>
<line x1="398.5" y1="178" x2="398.5" y2="194" stroke="#ff0000" stroke-width="1"/>
<line x1="427.5" y1="162.5" x2="427.5" y2="171" stroke="#ff0000" stroke-width="1"/>
<line x1="445.5" y1="132.5" x2="445.5" y2="146" stroke="#ff0000" stroke-width="1"/>
<line x1="447.5" y1="122.75" x2="447.5" y2="140" stroke="#ff0000" stroke-width="1"/>
<line x1="449.5" y1="116" x2="449.5" y2="130" stroke="#ff0000" stroke-width="1"/>
<line x1="458.5" y1="110" x2="458.5" y2="119" stroke="#ff0000" stroke-width="1"/>
<line x1="475.5" y1="107.5" x2="475.5" y2="117.5" stroke="#ff0000" stroke-width="1"/>
<line x1="482.5" y1="105" x2="482.5" y2="114" stroke="#ff0000" stroke-width="1"/>
<line x1="484.5" y1="65" x2="484.5" y2="105" stroke="#ff0000" stroke-width="1"/>
<line x1="486.5" y1="54" x2="486.5" y2="65" stroke="#ff0000" stroke-width="1"/>
<path d="M74,297.5h1M76,298.5h1M77,298.5h1M79,298.5h1M81,299.5h1M83,299.5h1M85,300.5h1M87,300.5h1M88,301.5h1M90,302.5h1M92,302.5h1M94,303.5h1M96,304.5h1M98,304.5h1M99,304.5h1M101,305.5h1M103,305.5h1M105,306.5h1M107,306.5h1M109,306.5h1M110,307.5h1M112,307.5h1M114,307.5h1M116,307.5h1M118,307.5h1M119,307.5h1M121,308.5h1M123,308.5h1M125,308.5h1M127,308.5h1M129,308.5h1M130,308.5h1M132,308.5h1M134,308.5h1M136,308.5h1M138,308.5h1M140,309.5h1M141,309.5h1M143,309.5h1M145,309.5h1M147,309.5h1M149,309.5h1M151,309.5h1M152,309.5h1M154,309.5h1M156,309.5h1M158,308.5h1M160,308.5h1M162,308.5h1M163,308.5h1M165,307.5h1M167,307.5h1M169,307.5h1M171,306.5h1M173,306.5h1M174,306.5h1M176,305.5h1M178,305.5h1M180,304.5h1M182,304.5h1M184,303.5h1M185,303.5h1M187,303.5h1M189,302.5h1M191,302.5h1M193,301.5h1M194,301.5h1M196,300.5h1M198,300.5h1M200,299.5h1M202,299.5h1M204,299.5h1M205,299.5h1M207,298.5h1M209,298.5h1M211,298.5h1M213,297.5h1M215,297.5h1M216,296.5h1M218,295.5h1M220,295.5h1M222,294.5h1M224,294.5h1M226,293.5h1M227,293.5h1M229,292.5h1M231,292.5h1M233,291.5h1M235,291.5h1M237,290.5h1M238,289.5h1M240,289.5h1M242,288.5h1M244,287.5h1M246,287.5h1M248,286.5h1M249,286.5h1M251,285.5h1M253,285.5h1M255,284.5h1M257,284.5h1M259,284.5h1M260,283.5h1M262,283.5h1M264,283.5h1M266,283.5h1M268,282.5h1M269,282.5h1M271,282.5h1M273,282.5h1M275,281.5h1M277,281.5h1M279,281.5h1M280,280.5h1M282,280.5h1M284,280.5h1M286,279.5h1M288,279.5h1M290,279.5h1M291,278.5h1M293,278.5h1M295,277.5h1M297,277.5h1M299,277.5h1M301,276.5h1M302,276.5h1M304,276.5h1M306,275.5h1M308,275.5h1M310,275.5h1M312,274.5h1M313,274.5h1M315,273.5h1M317,273.5h1M319,273.5h1M321,273.5h1M323,273.5h1M324,273.5h1M326,273.5h1M328,274.5h1M330,274.5h1M332,274.5h1M334,275.5h1M335,275.5h1M337,275.5h1M339,276.5h1M341,276.5h1M343,276.5h1M344,276.5h1M346,277.5h1M348,277.5h1M350,277.5h1M352,277.5h1M354,276.5h1M355,276.5h1M357,276.5h1M359,276.5h1M361,275.5h1M363,274.5h1M365,273.5h1M366,272.5h1M368,270.5h1M370,269.5h1M372,268.5h1M374,266.5h1M376,265.5h1M377,264.5h1M379,262.5h1M381,261.5h1M383,260.5h1M385,259.5h1M387,258.5h1M388,258.5h1M390,257.5h1M392,256.5h1M394,256.5h1M396,256.5h1M398,256.5h1M399,256.5h1M401,256.5h1M403,257.5h1M405,257.5h1M407,257.5h1M409,258.5h1M410,258.5h1M412,259.5h1M414,259.5h1M416,259.5h1M418,259.5h1M419,259.5h1M421,259.5h1M423,259.5h1M425,259.5h1M427,259.5h1M429,259.5h1M430,258.5h1M432,258.5h1M434,258.5h1M436,258.5h1M438,258.5h1M440,257.5h1M441,257.5h1M443,256.5h1M445,256.5h1M447,255.5h1M449,254.5h1M451,254.5h1M452,253.5h1M454,252.5h1M456,251.5h1M458,250.5h1M460,250.5h1M462,249.5h1M463,248.5h1M465,247.5h1M467,247.5h1M469,246.5h1M471,245.5h1M473,244.5h1M474,243.5h1M476,242.5h1M478,242.5h1M480,241.5h1M482,240.5h1M484,239.5h1M485,239.5h1M487,238.5h1M489,237.5h1" stroke="#ff0000" stroke-width="1" fill="none"/>
<polyline points="34.0,299.5 40.0,300.0 44.0,298.0 47.5,301.0 52.5,298.8 57.5,295.5 62.5,295.0 69.0,297.0 74.0,298.8 77.5,303.8 81.0,307.5 85.0,312.0 89.0,310.0 94.0,310.5 99.0,308.0 104.0,308.8 109.0,307.0 114.0,306.0 117.5,305.0 122.5,308.0 127.5,310.0 132.5,308.8 137.5,308.0 142.5,309.5 147.5,310.5 152.5,311.0 155.2,320.2 157.0,310.5 161.5,305.2 166.0,302.7 170.5,305.2 175.0,300.8 181.0,301.2 185.5,299.2 190.0,301.2 194.5,298.2 200.5,300.0 205.0,295.5 209.5,291.0 215.5,290.2 220.0,286.5 226.2,286.2 228.0,288.8 232.0,284.0 237.0,284.0 238.8,285.0 244.4,285.2 248.0,282.0 252.5,281.2 257.0,280.0 261.2,280.6 272.5,280.4 281.2,279.8 284.4,276.2 289.4,275.6 292.5,278.0 296.2,276.5 300.0,275.6 302.0,273.0 307.5,272.5 313.8,270.6 320.0,272.2 322.5,272.5 326.0,275.0 329.0,279.5 332.5,281.0 337.5,283.0 340.0,282.5 347.5,282.0 348.8,271.2 356.2,269.4 360.0,262.5 362.5,252.5 368.8,252.0 369.4,253.8 373.0,252.5 375.6,256.2 383.8,255.6 387.5,258.8 391.2,258.8 392.0,257.0 395.0,257.5 397.5,259.8 402.5,260.2 410.0,262.0 416.2,261.5 422.5,259.4 426.2,255.0 430.0,255.2 432.0,253.5 435.0,253.0 437.0,252.0 440.0,252.0 443.8,252.5 446.0,246.0 450.0,244.5 455.0,243.8 460.0,241.0 465.0,241.0 470.0,239.5 475.0,237.5 482.0,238.0 483.0,230.0 485.0,223.0 489.5,222.5" fill="none" stroke="#0000ff" stroke-width="2"/>
<path d="M129,321.5h1M130,321.5h1M132,321.5h1M134,321.5h1M136,322.5h1M138,322.5h1M140,323.5h1M141,323.5h1M143,324.5h1M145,324.5h1M147,324.5h1M149,325.5h1M151,326.5h1M152,326.5h1M154,327.5h1M156,327.5h1M158,328.5h1M160,328.5h1M162,329.5h1M163,329.5h1M165,330.5h1M167,331.5h1M169,331.5h1M171,332.5h1M173,332.5h1M174,333.5h1M176,333.5h1M178,333.5h1M180,334.5h1M182,334.5h1M184,334.5h1M185,334.5h1M187,335.5h1M189,335.5h1M191,335.5h1M193,335.5h1M194,335.5h1M196,334.5h1M198,334.5h1M200,334.5h1M202,334.5h1M204,333.5h1M205,333.5h1M207,332.5h1M209,332.5h1M211,331.5h1M213,331.5h1M215,330.5h1M216,330.5h1M218,329.5h1M220,328.5h1M222,328.5h1M224,327.5h1M226,326.5h1M227,326.5h1M229,325.5h1M231,325.5h1M233,324.5h1M235,324.5h1M237,323.5h1M238,323.5h1M240,322.5h1M242,321.5h1M244,321.5h1M246,321.5h1M248,320.5h1M249,320.5h1M251,320.5h1M253,319.5h1M255,319.5h1M257,319.5h1M259,319.5h1M260,318.5h1M262,318.5h1M264,318.5h1M266,318.5h1M268,318.5h1M269,318.5h1M271,318.5h1M273,318.5h1M275,318.5h1M277,318.5h1M279,318.5h1M280,318.5h1M282,318.5h1M284,318.5h1M286,318.5h1M288,318.5h1M290,318.5h1M291,318.5h1M293,318.5h1M295,318.5h1M297,319.5h1M299,319.5h1M301,319.5h1M302,319.5h1M304,319.5h1M306,319.5h1M308,319.5h1M310,319.5h1M312,320.5h1M313,320.5h1M315,320.5h1M317,320.5h1M319,320.5h1M321,320.5h1M323,321.5h1M324,321.5h1M326,321.5h1M328,321.5h1M330,322.5h1M332,322.5h1M334,322.5h1M335,322.5h1M337,323.5h1M339,323.5h1M341,323.5h1M343,323.5h1M344,324.5h1M346,324.5h1M348,324.5h1M350,324.5h1M352,324.5h1M354,325.5h1M355,325.5h1M357,325.5h1M359,325.5h1M361,325.5h1M363,325.5h1M365,324.5h1M366,324.5h1M368,324.5h1M370,324.5h1M372,324.5h1M374,324.5h1M376,324.5h1M377,323.5h1M379,322.5h1M381,322.5h1M383,321.5h1M385,320.5h1M387,320.5h1M388,319.5h1M390,319.5h1M392,318.5h1M394,318.5h1M396,317.5h1M398,317.5h1M399,316.5h1M401,316.5h1M403,315.5h1M405,315.5h1M407,315.5h1M409,315.5h1M410,315.5h1M412,315.5h1M414,315.5h1M416,314.5h1M418,314.5h1M419,314.5h1M421,314.5h1M423,314.5h1M425,314.5h1M427,314.5h1M429,314.5h1M430,314.5h1M432,313.5h1M434,313.5h1M436,313.5h1M438,313.5h1M440,313.5h1M441,312.5h1M443,312.5h1M445,312.5h1M447,312.5h1M449,311.5h1M451,311.5h1M452,310.5h1M454,310.5h1M456,310.5h1M458,309.5h1M460,309.5h1M462,308.5h1M463,308.5h1M465,307.5h1M467,307.5h1M469,307.5h1M471,306.5h1M473,306.5h1M474,306.5h1M476,305.5h1M478,305.5h1M480,304.5h1M482,304.5h1M484,303.5h1M485,303.5h1M487,302.5h1M489,302.5h1" stroke="#000" stroke-width="1" fill="none"/>
<polyline points="35.0,325.5 45.0,325.0 55.0,323.0 60.0,321.0 67.5,320.8 75.0,321.0 85.0,321.8 95.0,321.0 105.0,321.0 115.0,320.8 125.0,321.0 129.0,324.5 135.0,326.0 142.5,328.8 147.5,331.0 152.5,335.0 155.0,337.5 162.5,336.0 172.5,335.5 182.5,335.5 190.0,337.5 192.5,333.8 197.5,333.0 205.0,331.0 210.0,326.0 215.0,325.0 219.0,321.0 225.0,320.8 232.5,321.0 240.0,320.5 247.5,318.0 255.0,317.0 265.0,317.0 272.5,318.0 280.0,318.8 290.0,319.5 300.0,320.5 310.0,320.0 320.0,320.0 327.5,323.0 332.5,326.0 337.5,327.5 345.0,325.5 355.0,325.0 365.0,325.0 374.0,325.0 375.0,315.0 377.5,313.0 385.0,313.8 392.5,313.8 396.0,312.5 400.0,315.0 405.0,317.0 412.5,317.5 420.0,317.5 426.0,317.5 427.5,313.8 435.0,313.8 442.5,315.0 445.0,313.8 447.5,307.5 452.5,306.0 457.5,304.5 462.5,307.0 467.5,307.5 472.5,305.0 477.5,301.0 482.5,301.0 484.0,291.0 487.5,290.5 490.0,290.0" fill="none" stroke="#ff00ff" stroke-width="2"/>
<path d="M123,354.5h1M125,354.5h1M127,353.5h1M129,353.5h1M130,353.5h1M132,353.5h1M134,353.5h1M136,353.5h1M138,353.5h1M140,353.5h1M141,353.5h1M143,354.5h1M145,354.5h1M147,355.5h1M149,356.5h1M151,357.5h1M152,358.5h1M154,358.5h1M156,359.5h1M158,359.5h1M160,359.5h1M162,360.5h1M163,360.5h1M165,360.5h1M167,361.5h1M169,361.5h1M171,361.5h1M173,362.5h1M174,362.5h1M176,362.5h1M178,362.5h1M180,363.5h1M182,363.5h1M184,363.5h1M185,363.5h1M187,363.5h1M189,363.5h1M191,363.5h1M193,363.5h1M194,363.5h1M196,363.5h1M198,363.5h1M200,363.5h1M202,363.5h1M204,363.5h1M205,362.5h1M207,362.5h1M209,362.5h1M211,361.5h1M213,361.5h1M215,360.5h1M216,360.5h1M218,360.5h1M220,359.5h1M222,359.5h1M224,358.5h1M226,358.5h1M227,358.5h1M229,357.5h1M231,357.5h1M233,356.5h1M235,356.5h1M237,355.5h1M238,355.5h1M240,354.5h1M242,354.5h1M244,354.5h1M246,353.5h1M248,353.5h1M249,353.5h1M251,352.5h1M253,352.5h1M255,351.5h1M257,351.5h1M259,351.5h1M260,350.5h1M262,350.5h1M264,350.5h1M266,350.5h1M268,349.5h1M269,349.5h1M271,349.5h1M273,349.5h1M275,349.5h1M277,348.5h1M279,348.5h1M280,348.5h1M282,348.5h1M284,348.5h1M286,348.5h1M288,348.5h1M290,348.5h1M291,348.5h1M293,348.5h1M295,348.5h1M297,348.5h1M299,348.5h1M301,347.5h1M302,347.5h1M304,347.5h1M306,347.5h1M308,347.5h1M310,347.5h1M312,347.5h1M313,347.5h1M315,347.5h1M317,347.5h1M319,347.5h1M321,347.5h1M323,347.5h1M324,347.5h1M326,347.5h1M328,347.5h1M330,348.5h1M332,348.5h1M334,348.5h1M335,349.5h1M337,349.5h1M339,349.5h1M341,350.5h1M343,350.5h1M344,350.5h1M346,350.5h1M348,350.5h1M350,350.5h1M352,350.5h1M354,350.5h1M355,350.5h1M357,350.5h1M359,350.5h1M361,349.5h1M363,349.5h1M365,349.5h1M366,349.5h1M368,348.5h1M370,348.5h1M372,347.5h1M374,346.5h1M376,346.5h1M377,345.5h1M379,344.5h1M381,343.5h1M383,343.5h1M385,342.5h1M387,341.5h1M388,341.5h1M390,341.5h1M392,340.5h1M394,340.5h1M396,339.5h1M398,339.5h1M399,339.5h1M401,339.5h1M403,339.5h1M405,339.5h1M407,339.5h1M409,339.5h1M410,339.5h1M412,339.5h1M414,339.5h1M416,339.5h1M418,339.5h1M419,339.5h1M421,338.5h1M423,338.5h1M425,338.5h1M427,338.5h1M429,338.5h1M430,338.5h1M432,337.5h1M434,337.5h1M436,337.5h1M438,336.5h1M440,335.5h1M441,335.5h1M443,334.5h1M445,334.5h1M447,333.5h1M449,332.5h1M451,331.5h1M452,329.5h1M454,328.5h1M456,327.5h1M458,326.5h1M460,325.5h1M462,324.5h1M463,323.5h1M465,322.5h1M467,321.5h1M469,320.5h1M471,319.5h1M473,318.5h1M474,317.5h1M476,315.5h1M478,314.5h1M480,313.5h1M482,312.5h1M484,311.5h1M485,310.5h1M487,309.5h1M489,307.5h1" stroke="#ff0000" stroke-width="1" fill="none"/>
<polyline points="34.0,363.8 42.5,362.5 50.0,359.5 55.0,355.0 60.0,351.0 67.5,352.5 72.5,352.0 77.5,356.0 85.0,355.0 90.0,357.5 95.0,355.0 100.0,356.0 105.0,355.0 110.0,351.0 115.0,350.0 120.0,352.5 125.0,351.0 130.0,353.8 135.0,355.0 140.0,358.8 145.0,361.0 150.0,363.8 155.0,371.0 159.0,362.5 162.5,360.0 167.5,361.0 172.5,362.5 177.5,365.0 185.0,365.0 187.5,366.0 192.5,363.8 197.5,366.0 205.0,365.0 210.0,358.8 215.0,355.0 220.0,352.5 225.0,352.5 227.5,356.0 232.5,353.0 237.5,355.0 245.0,353.8 249.0,348.8 255.0,345.5 260.0,347.5 267.5,348.0 275.0,348.8 280.0,351.0 287.5,348.8 295.0,348.8 300.0,345.5 305.0,347.0 312.5,346.0 320.0,343.8 325.0,345.5 327.5,350.0 332.5,355.0 337.5,356.0 342.5,354.5 346.0,356.0 348.0,346.0 352.5,345.5 357.5,342.5 365.0,343.8 371.0,345.0 375.0,339.5 380.0,338.0 386.0,340.0 391.0,342.0 396.0,338.8 401.0,336.0 406.0,338.8 411.0,340.0 417.5,340.5 422.5,341.0 426.0,335.0 430.0,332.5 434.0,333.8 437.5,328.8 441.0,326.0 444.0,328.8 446.0,321.0 449.0,317.5 452.5,315.0 456.0,313.8 460.0,316.0 464.0,313.8 467.5,312.0 471.0,309.5 475.0,310.0 479.0,311.0 481.0,307.5 483.0,302.5 484.0,291.0 486.0,285.5 489.5,282.0" fill="none" stroke="#000" stroke-width="2"/>
<path d="M151.5,192V201.5M148.0,197.0L151.5,201.5L155.0,197.0" fill="none" stroke="#000" stroke-width="1"/>
<path d="M129.5,268.5V283M125.5,274.5L129.5,268.5L133.5,274.5" fill="none" stroke="#000" stroke-width="1"/>
<rect x="155.0" y="280" width="3" height="13" fill="#ff0000"/><path d="M152.0,285.5L156.5,280.5L161.0,285.5" fill="none" stroke="#ff0000" stroke-width="1"/>
<path d="M248.5,259.5V274M245.0,265.5L248.5,259.5L252.0,265.5" fill="none" stroke="#ff0000" stroke-width="1"/>
<path d="M248.5,282.5V310M245.0,287.5L248.5,282.5L252.0,287.5" fill="none" stroke="#ff0000" stroke-width="1"/>
<path d="M248.5,297.5V310M245.0,302.5L248.5,297.5L252.0,302.5" fill="none" stroke="#ff0000" stroke-width="1"/>
<rect x="278.0" y="174" width="3" height="9" fill="#ff0000"/><path d="M275.5,179L279.5,183L283.5,179" fill="none" stroke="#ff0000" stroke-width="1"/>
<path d="M323.5,170V179.5M320.0,175.5L323.5,179.5L327.0,175.5" fill="none" stroke="#000" stroke-width="1"/>
<path d="M332.5,168V178.5M328.5,174.0L332.5,178.5L336.5,174.0" fill="none" stroke="#000" stroke-width="1"/>
<rect x="340.0" y="252" width="3" height="12" fill="#ff0000"/><path d="M337.0,257.5L341.5,252.5L346.0,257.5" fill="none" stroke="#ff0000" stroke-width="1"/>
<path d="M374.5,270.5V285M370.5,276.0L374.5,270.5L378.5,276.0" fill="none" stroke="#000" stroke-width="1"/>
<path d="M427.5,221V235M424.5,226L427.5,221L430.5,226" fill="none" stroke="#ff0000" stroke-width="1"/>
<path d="M431.5,221V235M428.5,226L431.5,221L434.5,226" fill="none" stroke="#0000ff" stroke-width="1"/>
<path d="M427.5,258V272M424.5,263L427.5,258L430.5,263" fill="none" stroke="#ff0000" stroke-width="1"/>
<path d="M483.5,207V221M479.5,212L483.5,207L487.5,212" fill="none" stroke="#ff0000" stroke-width="1"/>
<path d="M484.5,193.5V207M480.5,198.5L484.5,193.5L488.5,198.5" fill="none" stroke="#ff0000" stroke-width="1"/>
<path d="M484.5,170.5V194M480.5,175.5L484.5,170.5L488.5,175.5" fill="none" stroke="#ff0000" stroke-width="1"/>
<path d="M484.5,181V194M480.5,186L484.5,181L488.5,186" fill="none" stroke="#ff0000" stroke-width="1"/>
<path d="M489.5,170.5V187M485.5,176.5L489.5,170.5L493.5,176.5" fill="none" stroke="#000" stroke-width="1"/>
<line x1="32.5" y1="440" x2="32.5" y2="456" stroke="#808000" stroke-width="1"/>
</g>
</svg>
</body></html>
